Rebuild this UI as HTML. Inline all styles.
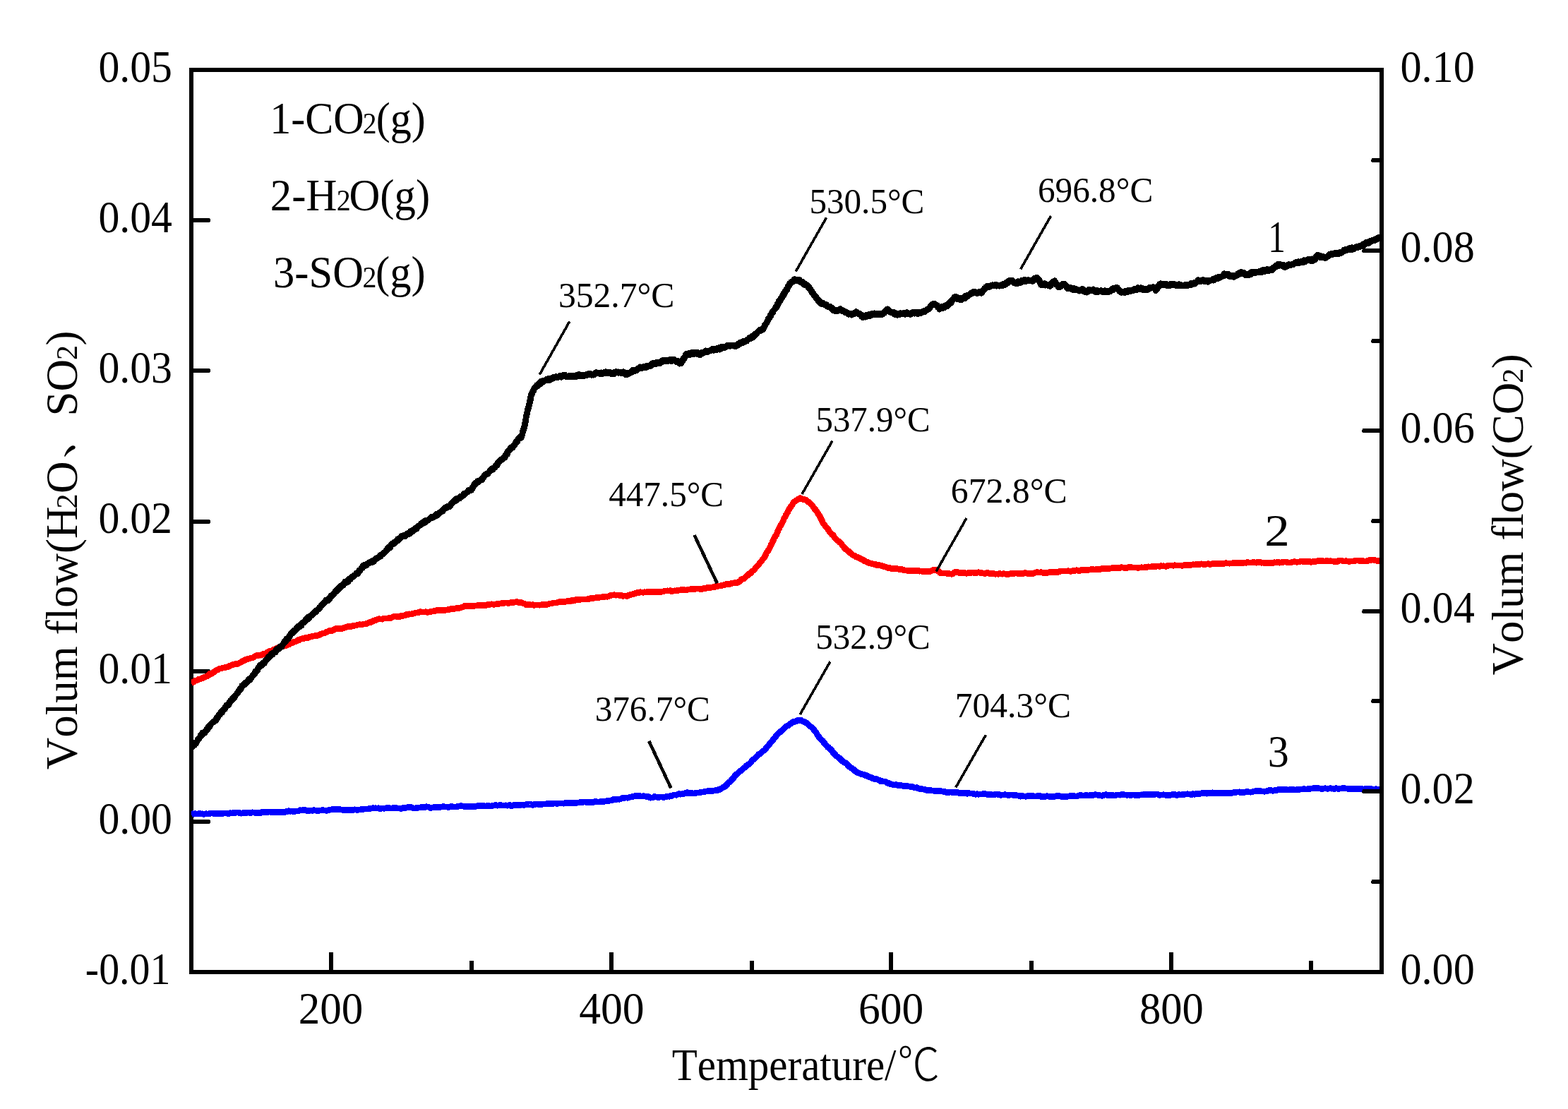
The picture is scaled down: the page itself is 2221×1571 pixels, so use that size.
<!DOCTYPE html>
<html lang="en"><head><meta charset="utf-8"><title>Volum flow vs Temperature</title>
<style>html,body{margin:0;padding:0;background:#fff;}body{width:2221px;height:1571px;overflow:hidden;}svg{display:block;}text{fill:#000;white-space:pre;font-kerning:none;font-variant-ligatures:none;}</style>
</head><body>
<svg width="2221" height="1571" viewBox="0 0 2221 1571" role="img" aria-label="Volum flow of CO2, H2O and SO2 versus temperature">
<rect x="0" y="0" width="2221" height="1571" fill="#fff"/>
<g stroke="#000" stroke-width="6" fill="none" stroke-linecap="butt" shape-rendering="crispEdges">
<line x1="271.0" y1="95.7" x2="271.0" y2="1379.7"/>
<line x1="268.0" y1="1376.7" x2="1960.2" y2="1376.7"/>
<line x1="268.0" y1="98.7" x2="1960.2" y2="98.7"/>
<line x1="271.0" y1="312.0" x2="297.0" y2="312.0"/>
<line x1="296.5" y1="312.0" x2="298" y2="312.0" stroke-width="4"/>
<line x1="271.0" y1="525.0" x2="297.0" y2="525.0"/>
<line x1="296.5" y1="525.0" x2="298" y2="525.0" stroke-width="4"/>
<line x1="271.0" y1="739.0" x2="297.0" y2="739.0"/>
<line x1="296.5" y1="739.0" x2="298" y2="739.0" stroke-width="4"/>
<line x1="271.0" y1="951.0" x2="297.0" y2="951.0"/>
<line x1="296.5" y1="951.0" x2="298" y2="951.0" stroke-width="4"/>
<line x1="271.0" y1="1164.0" x2="297.0" y2="1164.0"/>
<line x1="296.5" y1="1164.0" x2="298" y2="1164.0" stroke-width="4"/>
<line x1="469.0" y1="1376.7" x2="469.0" y2="1348.7"/>
<line x1="866.0" y1="1376.7" x2="866.0" y2="1348.7"/>
<line x1="1262.0" y1="1376.7" x2="1262.0" y2="1348.7"/>
<line x1="1659.0" y1="1376.7" x2="1659.0" y2="1348.7"/>
<line x1="668.0" y1="1376.7" x2="668.0" y2="1361.0"/>
<line x1="1065.0" y1="1376.7" x2="1065.0" y2="1361.0"/>
<line x1="1461.0" y1="1376.7" x2="1461.0" y2="1361.0"/>
<line x1="1857.0" y1="1376.7" x2="1857.0" y2="1361.0"/>
</g>
<clipPath id="cp"><rect x="270.8" y="90" width="1684.2" height="1300"/></clipPath>
<g clip-path="url(#cp)">
<path d="M270.8 967.4 L272.6 966.6 L274.4 965.9 L276.2 964.4 L278.0 963.9 L279.8 963.4 L281.6 962.3 L283.4 961.9 L285.2 961.3 L287.0 960.7 L288.8 959.4 L290.6 959.0 L292.4 958.2 L294.0 957.7 L295.7 956.3 L297.3 954.4 L299.0 954.5 L300.6 953.7 L302.3 952.5 L303.9 951.5 L305.6 950.2 L307.2 949.1 L308.9 948.8 L310.5 947.4 L312.5 947.1 L314.4 946.6 L316.4 945.9 L318.3 945.7 L320.3 945.0 L322.2 944.8 L324.2 943.8 L326.1 943.1 L328.1 942.2 L330.0 941.6 L332.0 941.1 L333.8 940.4 L335.6 940.7 L337.4 940.0 L339.2 939.2 L341.0 938.4 L342.8 937.1 L344.6 936.2 L346.4 935.3 L348.2 934.3 L350.0 934.2 L352.0 933.0 L353.9 932.9 L355.9 931.9 L357.9 931.8 L359.9 930.9 L361.8 929.2 L363.8 928.6 L365.8 928.9 L367.8 928.1 L369.7 928.2 L371.7 927.1 L373.5 926.2 L375.3 926.1 L377.1 925.3 L378.9 923.8 L380.7 922.7 L382.5 922.2 L384.3 922.2 L386.1 921.4 L387.9 920.0 L389.7 919.5 L391.5 918.6 L393.3 917.5 L395.3 917.3 L397.2 915.7 L399.2 915.8 L401.2 915.4 L403.2 914.8 L405.1 914.6 L407.1 913.2 L409.1 912.9 L411.1 911.5 L413.0 911.0 L415.0 909.9 L416.8 909.1 L418.6 909.0 L420.4 908.0 L422.2 906.7 L424.0 906.6 L425.8 905.2 L427.6 904.8 L429.4 904.6 L431.4 904.1 L433.3 903.2 L435.3 903.8 L437.3 902.7 L439.2 902.1 L441.2 902.1 L443.1 901.0 L445.1 900.9 L447.1 900.5 L449.0 900.4 L451.0 900.2 L452.8 898.9 L454.6 898.4 L456.4 897.5 L458.2 897.0 L460.0 896.8 L461.8 895.5 L463.6 894.8 L465.4 894.2 L467.2 893.3 L469.0 893.0 L470.8 893.4 L472.6 892.3 L474.6 891.0 L476.5 890.2 L478.5 890.7 L480.5 890.9 L482.4 890.1 L484.4 890.4 L486.3 889.8 L488.3 889.0 L490.3 888.4 L492.2 887.7 L494.2 887.3 L496.2 887.9 L498.1 886.8 L500.1 886.9 L502.1 885.9 L504.1 886.0 L506.0 885.2 L508.0 884.9 L510.0 884.7 L512.0 885.1 L513.9 884.2 L515.9 884.0 L517.9 883.8 L519.8 883.4 L521.8 882.5 L523.8 881.5 L525.7 881.5 L527.7 880.1 L529.6 879.2 L531.6 878.7 L533.6 878.1 L535.5 876.9 L537.5 876.8 L539.4 877.0 L541.3 877.2 L543.3 876.2 L545.2 875.9 L547.1 875.9 L549.0 876.0 L550.9 875.6 L552.9 875.6 L554.8 874.9 L556.7 873.9 L558.6 873.2 L560.5 873.0 L562.5 873.8 L564.4 873.4 L566.3 873.5 L568.2 872.3 L570.1 872.7 L572.1 871.9 L574.0 871.5 L575.9 870.4 L577.8 870.9 L579.7 869.8 L581.7 870.0 L583.6 869.6 L585.5 869.2 L587.4 868.5 L589.3 868.1 L591.3 867.8 L593.2 867.5 L595.1 866.7 L597.0 866.9 L599.0 866.9 L600.9 867.1 L602.9 866.8 L604.8 867.3 L606.8 867.2 L608.7 866.7 L610.7 866.5 L612.6 865.9 L614.6 865.8 L616.5 865.4 L618.5 864.5 L620.4 864.7 L622.4 864.8 L624.3 864.6 L626.3 864.5 L628.2 864.1 L630.2 864.4 L632.2 864.1 L634.1 863.8 L636.1 863.8 L638.0 862.8 L640.0 863.1 L642.0 862.1 L644.0 862.3 L646.0 861.9 L648.0 861.3 L650.0 861.5 L652.0 861.0 L654.0 860.3 L656.0 859.8 L658.0 858.4 L659.9 858.1 L661.9 858.3 L663.8 858.7 L665.7 858.2 L667.6 858.2 L669.6 858.9 L671.5 858.4 L673.4 857.9 L675.4 858.0 L677.3 857.5 L679.2 857.8 L681.1 857.3 L683.1 857.5 L685.0 857.8 L686.9 857.8 L688.9 857.4 L690.8 856.5 L692.7 856.4 L694.6 856.1 L696.6 855.8 L698.5 856.2 L700.4 856.2 L702.4 855.9 L704.3 855.5 L706.2 855.6 L708.1 854.9 L710.1 854.8 L712.0 854.7 L714.0 854.3 L715.9 854.0 L717.9 854.1 L719.9 854.3 L721.9 854.2 L723.8 853.6 L725.8 853.6 L727.8 853.3 L729.8 852.9 L731.7 852.7 L733.7 852.8 L735.8 853.9 L737.8 853.3 L739.9 854.3 L741.9 855.0 L744.0 855.6 L746.0 857.0 L748.1 856.6 L750.2 856.7 L752.2 857.0 L754.3 856.6 L756.3 857.5 L758.4 856.9 L760.4 856.9 L762.5 857.0 L764.5 857.2 L766.5 856.8 L768.5 856.8 L770.5 856.6 L772.5 856.5 L774.5 856.4 L776.5 855.8 L778.5 855.1 L780.5 855.1 L782.5 854.5 L784.4 854.0 L786.4 854.1 L788.4 854.1 L790.4 853.1 L792.3 852.7 L794.3 852.3 L796.3 852.6 L798.3 852.3 L800.2 852.3 L802.2 852.1 L804.1 851.4 L806.1 851.6 L808.0 851.5 L809.9 850.5 L811.8 851.2 L813.8 850.6 L815.7 849.6 L817.6 849.5 L819.6 849.5 L821.5 849.6 L823.4 848.9 L825.3 848.9 L827.3 849.1 L829.2 848.9 L831.1 848.9 L833.1 848.4 L835.0 848.4 L836.9 847.6 L838.8 847.6 L840.8 847.3 L842.7 846.9 L844.6 846.7 L846.6 845.9 L848.5 846.3 L850.4 846.1 L852.3 845.8 L854.3 845.3 L856.2 845.5 L858.2 845.1 L860.2 845.2 L862.2 844.6 L864.2 843.7 L866.2 843.1 L868.2 843.1 L870.2 842.8 L872.2 843.2 L874.2 843.0 L876.3 843.0 L878.3 844.0 L880.4 843.5 L882.4 844.4 L884.5 843.9 L886.5 844.1 L888.6 844.6 L890.4 843.3 L892.2 842.6 L894.0 842.2 L895.9 841.9 L897.7 841.4 L899.5 840.7 L901.3 840.1 L903.2 839.4 L905.2 839.5 L907.1 838.8 L909.0 839.0 L910.9 839.3 L912.9 838.8 L914.8 838.9 L916.7 838.5 L918.7 838.4 L920.6 838.6 L922.5 838.3 L924.4 838.2 L926.4 838.3 L928.3 838.9 L930.2 838.8 L932.2 838.0 L934.1 838.6 L936.0 838.5 L937.9 837.9 L939.9 837.8 L941.8 837.1 L943.7 837.1 L945.7 836.8 L947.6 837.1 L949.5 836.7 L951.4 837.8 L953.4 837.1 L955.3 836.8 L957.2 837.0 L959.2 836.5 L961.1 836.2 L963.0 836.1 L964.9 835.4 L966.9 835.8 L968.8 835.5 L970.7 836.0 L972.7 835.9 L974.6 835.1 L976.5 835.1 L978.4 834.6 L980.4 834.7 L982.3 834.9 L984.3 834.6 L986.2 833.9 L988.2 833.9 L990.2 833.9 L992.1 834.5 L994.1 834.6 L996.1 833.6 L998.0 834.1 L1000.0 832.9 L1002.0 832.7 L1004.0 832.3 L1006.0 832.5 L1008.0 831.9 L1010.0 831.8 L1012.0 831.5 L1014.0 830.5 L1016.0 830.6 L1018.0 829.9 L1020.0 830.1 L1022.0 829.6 L1024.0 828.9 L1026.0 828.5 L1028.0 827.7 L1030.0 827.5 L1032.0 827.4 L1034.0 827.4 L1036.0 826.5 L1037.8 826.0 L1039.6 825.9 L1041.4 825.6 L1043.2 825.2 L1045.0 825.3 L1046.8 824.2 L1048.4 822.9 L1050.0 820.8 L1051.6 820.5 L1053.2 819.8 L1054.7 819.1 L1056.3 817.1 L1057.9 815.6 L1059.5 814.8 L1060.9 813.0 L1062.3 812.7 L1063.7 811.4 L1065.1 809.6 L1066.5 808.6 L1067.9 808.0 L1069.3 805.7 L1070.7 803.8 L1072.1 802.8 L1073.4 801.0 L1074.7 799.9 L1076.0 797.8 L1077.2 796.5 L1078.5 795.3 L1079.8 793.1 L1081.1 791.7 L1082.1 790.4 L1083.1 788.9 L1084.1 787.0 L1085.1 784.2 L1086.1 782.7 L1087.1 781.5 L1088.1 779.9 L1089.1 778.6 L1090.1 776.3 L1091.0 774.3 L1091.9 772.5 L1092.8 770.5 L1093.7 769.0 L1094.6 767.0 L1095.5 765.2 L1096.4 763.0 L1097.3 761.2 L1098.2 759.5 L1099.1 758.5 L1100.0 756.9 L1100.9 754.8 L1101.8 751.9 L1102.7 749.8 L1103.6 748.9 L1104.5 746.6 L1105.4 745.1 L1106.3 743.3 L1107.2 742.0 L1108.1 740.7 L1109.0 738.5 L1109.9 736.6 L1110.8 733.9 L1111.7 732.9 L1112.6 731.4 L1113.5 729.0 L1114.4 727.7 L1115.3 726.3 L1116.2 724.4 L1117.1 722.4 L1118.3 720.6 L1119.5 719.2 L1120.7 716.6 L1121.9 715.5 L1123.1 713.4 L1124.3 711.3 L1126.1 710.3 L1127.9 708.9 L1129.7 707.6 L1131.5 706.8 L1133.3 705.6 L1135.1 706.7 L1136.9 707.2 L1138.7 707.3 L1140.5 708.3 L1142.3 708.5 L1143.8 710.0 L1145.3 711.2 L1146.8 712.0 L1148.4 713.7 L1149.9 715.5 L1151.4 717.1 L1152.6 719.2 L1153.8 720.8 L1155.0 722.0 L1156.2 723.9 L1157.4 725.1 L1158.6 727.2 L1159.6 729.2 L1160.7 730.4 L1161.7 732.4 L1162.7 734.4 L1163.7 736.5 L1164.8 738.2 L1165.8 741.1 L1166.9 742.4 L1168.0 743.7 L1169.2 745.7 L1170.3 746.8 L1171.4 748.0 L1172.5 749.0 L1173.7 751.4 L1174.8 752.8 L1176.1 754.7 L1177.5 756.1 L1178.8 757.7 L1180.2 758.1 L1181.5 760.6 L1182.9 762.6 L1184.2 764.0 L1185.6 765.3 L1186.9 766.0 L1188.3 767.1 L1189.7 768.6 L1191.0 769.7 L1192.3 771.2 L1193.7 773.5 L1195.1 774.8 L1196.4 776.4 L1197.9 778.0 L1199.5 778.7 L1201.0 780.2 L1202.6 781.4 L1204.1 783.1 L1205.7 784.0 L1207.2 785.7 L1209.0 786.9 L1210.8 787.2 L1212.6 789.0 L1214.4 789.1 L1216.2 790.4 L1218.0 790.8 L1219.8 791.9 L1221.6 792.7 L1223.4 793.4 L1225.2 795.2 L1227.0 795.6 L1228.8 796.4 L1230.6 797.3 L1232.4 797.8 L1234.2 798.1 L1236.0 798.9 L1237.8 799.2 L1239.6 799.4 L1241.4 800.3 L1243.4 800.2 L1245.4 800.4 L1247.4 801.1 L1249.4 801.5 L1251.3 802.1 L1253.3 803.1 L1255.3 803.3 L1257.3 804.4 L1259.3 804.9 L1261.3 804.8 L1263.3 805.8 L1265.3 805.8 L1267.2 805.0 L1269.2 806.1 L1271.2 805.8 L1273.2 806.2 L1275.2 806.9 L1277.1 806.5 L1279.1 807.1 L1281.1 808.0 L1283.1 808.1 L1285.0 808.1 L1287.0 808.8 L1289.0 808.8 L1290.9 808.8 L1292.9 808.2 L1294.8 808.6 L1296.8 808.3 L1298.8 808.3 L1300.7 808.4 L1302.7 809.2 L1304.8 808.9 L1306.8 809.4 L1308.9 809.9 L1310.9 809.6 L1313.0 809.4 L1315.0 809.6 L1317.1 809.4 L1318.9 808.9 L1320.7 807.8 L1322.5 807.6 L1324.3 806.9 L1326.1 807.7 L1327.9 808.4 L1329.7 809.4 L1331.5 811.4 L1333.3 812.1 L1335.4 812.0 L1337.4 811.9 L1339.5 811.9 L1341.5 812.4 L1343.6 812.3 L1345.6 812.8 L1347.7 813.3 L1349.5 812.9 L1351.3 811.4 L1353.2 810.5 L1355.0 810.3 L1357.1 810.9 L1359.1 811.6 L1361.2 811.4 L1363.2 811.4 L1365.3 811.6 L1367.3 811.8 L1369.4 812.3 L1371.5 811.6 L1373.6 811.9 L1375.8 811.2 L1377.9 811.0 L1380.0 811.4 L1382.0 811.2 L1384.0 811.2 L1386.0 810.8 L1388.0 811.3 L1389.9 811.4 L1391.9 811.9 L1393.9 812.3 L1395.9 812.3 L1397.9 811.5 L1399.9 811.7 L1401.9 812.5 L1403.9 812.4 L1405.8 812.9 L1407.8 812.7 L1409.8 813.3 L1411.8 812.9 L1413.8 813.3 L1415.8 812.4 L1417.8 812.8 L1419.7 813.2 L1421.7 812.6 L1423.7 813.0 L1425.7 813.3 L1427.7 813.7 L1429.7 812.9 L1431.6 812.6 L1433.6 812.0 L1435.6 812.8 L1437.6 812.0 L1439.6 811.9 L1441.6 812.5 L1443.5 812.5 L1445.5 812.8 L1447.5 812.2 L1449.5 812.4 L1451.5 811.4 L1453.5 811.8 L1455.5 812.5 L1457.4 812.1 L1459.4 812.3 L1461.4 812.7 L1463.4 812.6 L1465.4 811.6 L1467.4 810.9 L1469.4 810.6 L1471.4 811.1 L1473.3 810.8 L1475.3 810.7 L1477.3 811.3 L1479.3 811.2 L1481.3 811.6 L1483.3 811.3 L1485.3 811.0 L1487.2 810.2 L1489.2 810.7 L1491.2 810.4 L1493.2 810.5 L1495.2 810.3 L1497.2 810.5 L1499.1 810.2 L1501.1 809.3 L1503.1 809.1 L1505.1 808.9 L1507.1 808.9 L1509.1 809.0 L1511.0 809.1 L1513.0 808.8 L1515.0 809.1 L1517.0 809.3 L1519.0 808.7 L1521.0 808.7 L1523.0 808.2 L1525.0 807.8 L1527.0 808.4 L1529.0 808.5 L1531.0 807.8 L1532.9 807.5 L1534.9 807.9 L1536.9 807.7 L1538.9 807.4 L1540.9 807.6 L1542.9 807.1 L1544.9 807.1 L1546.9 806.2 L1548.9 806.7 L1550.9 807.0 L1552.9 806.3 L1554.8 806.1 L1556.8 806.6 L1558.8 806.5 L1560.8 805.5 L1562.8 805.9 L1564.8 805.2 L1566.7 805.9 L1568.7 805.8 L1570.7 805.5 L1572.7 805.0 L1574.7 805.1 L1576.7 804.3 L1578.6 804.7 L1580.6 804.5 L1582.6 804.6 L1584.6 804.9 L1586.6 804.3 L1588.6 803.7 L1590.6 803.9 L1592.5 804.3 L1594.5 804.4 L1596.5 804.4 L1598.5 803.6 L1600.5 803.8 L1602.5 803.7 L1604.5 803.9 L1606.5 803.9 L1608.4 804.0 L1610.4 804.2 L1612.4 804.4 L1614.4 804.0 L1616.4 803.8 L1618.4 803.9 L1620.4 803.9 L1622.4 803.5 L1624.4 803.4 L1626.3 802.8 L1628.3 803.0 L1630.3 802.9 L1632.3 802.4 L1634.3 802.2 L1636.3 802.3 L1638.3 802.3 L1640.3 801.9 L1642.2 802.4 L1644.2 801.6 L1646.2 801.9 L1648.2 801.8 L1650.2 802.2 L1652.2 802.2 L1654.1 801.5 L1656.1 801.0 L1658.0 801.1 L1660.0 800.9 L1662.0 801.4 L1664.0 800.7 L1666.0 801.0 L1668.0 801.0 L1669.9 801.0 L1671.9 801.0 L1673.9 801.3 L1675.9 801.1 L1677.9 800.5 L1679.9 800.5 L1681.9 800.7 L1683.9 800.6 L1685.8 800.8 L1687.8 800.0 L1689.8 799.8 L1691.8 799.9 L1693.8 799.5 L1695.8 799.2 L1697.8 799.7 L1699.7 799.5 L1701.7 798.8 L1703.7 799.2 L1705.7 799.7 L1707.7 799.4 L1709.7 799.0 L1711.6 798.7 L1713.6 799.5 L1715.6 799.2 L1717.6 798.7 L1719.6 798.8 L1721.6 798.6 L1723.5 798.2 L1725.5 798.7 L1727.5 798.6 L1729.5 798.3 L1731.5 798.3 L1733.5 798.3 L1735.5 797.8 L1737.4 797.8 L1739.4 798.0 L1741.4 798.2 L1743.4 798.1 L1745.4 797.8 L1747.4 797.8 L1749.4 797.4 L1751.4 798.0 L1753.3 797.5 L1755.3 797.5 L1757.3 797.9 L1759.3 797.2 L1761.3 797.5 L1763.3 796.9 L1765.3 797.3 L1767.2 796.3 L1769.2 797.1 L1771.2 797.1 L1773.2 797.0 L1775.2 796.4 L1777.2 796.7 L1779.1 797.2 L1781.1 796.5 L1783.1 796.8 L1785.1 796.6 L1787.1 797.3 L1789.1 797.0 L1791.0 797.5 L1793.0 797.1 L1795.0 797.7 L1797.0 797.4 L1799.0 797.8 L1801.0 796.9 L1803.0 797.6 L1805.0 796.8 L1807.0 796.9 L1809.0 796.7 L1811.0 796.5 L1812.9 797.2 L1814.9 796.8 L1816.9 796.5 L1818.9 796.0 L1820.9 795.9 L1822.9 796.4 L1824.9 796.9 L1826.9 796.9 L1828.9 796.8 L1830.9 795.9 L1832.9 795.8 L1834.8 795.8 L1836.8 796.3 L1838.8 796.1 L1840.8 795.8 L1842.8 795.0 L1844.8 795.2 L1846.7 795.7 L1848.7 795.4 L1850.7 795.9 L1852.7 795.8 L1854.7 795.3 L1856.7 796.3 L1858.6 796.0 L1860.6 795.3 L1862.6 795.6 L1864.6 794.9 L1866.6 794.7 L1868.6 794.5 L1870.6 794.4 L1872.5 794.6 L1874.5 794.8 L1876.5 795.0 L1878.5 794.6 L1880.5 794.5 L1882.5 795.0 L1884.5 794.5 L1886.5 795.0 L1888.4 795.0 L1890.4 795.5 L1892.4 795.4 L1894.4 795.5 L1896.4 794.3 L1898.4 793.9 L1900.4 794.0 L1902.4 794.8 L1904.4 795.0 L1906.3 794.6 L1908.3 794.9 L1910.3 795.5 L1912.3 795.3 L1914.3 794.9 L1916.3 795.1 L1918.3 794.7 L1920.3 794.2 L1922.2 794.1 L1924.2 793.9 L1926.2 794.8 L1928.2 794.5 L1930.2 794.7 L1932.3 794.9 L1934.3 795.0 L1936.4 794.7 L1938.5 793.8 L1940.5 793.3 L1942.6 793.4 L1944.7 793.0 L1946.7 793.4 L1948.8 793.9 L1950.9 794.4 L1952.9 794.4 L1955.0 793.5" fill="none" stroke="#ff0000" stroke-width="8.70" stroke-linejoin="round" stroke-linecap="butt" shape-rendering="crispEdges"/>
<path d="M270.8 1153.5 L272.7 1152.7 L274.7 1153.2 L276.6 1152.7 L278.6 1153.0 L280.5 1152.8 L282.4 1152.4 L284.4 1153.0 L286.3 1152.8 L288.3 1153.4 L290.2 1152.9 L292.2 1152.8 L294.1 1152.9 L296.0 1153.1 L298.0 1152.1 L299.9 1151.9 L301.9 1152.3 L303.8 1152.6 L305.8 1152.2 L307.8 1152.1 L309.7 1152.8 L311.7 1151.9 L313.7 1152.7 L315.7 1152.2 L317.7 1152.1 L319.7 1152.1 L321.6 1152.2 L323.6 1152.7 L325.6 1151.8 L327.6 1151.9 L329.6 1151.7 L331.6 1151.4 L333.5 1151.5 L335.5 1151.0 L337.5 1151.2 L339.5 1151.6 L341.5 1152.2 L343.5 1151.8 L345.5 1151.5 L347.4 1151.6 L349.4 1151.3 L351.4 1151.0 L353.4 1151.4 L355.4 1151.3 L357.4 1150.8 L359.4 1151.1 L361.4 1151.3 L363.3 1151.8 L365.3 1151.9 L367.3 1151.1 L369.3 1151.5 L371.3 1150.3 L373.3 1150.6 L375.3 1151.0 L377.2 1150.4 L379.2 1150.6 L381.2 1150.0 L383.2 1150.4 L385.2 1150.5 L387.2 1150.2 L389.1 1150.5 L391.1 1150.0 L393.1 1150.6 L395.1 1150.6 L397.1 1150.6 L399.1 1150.4 L401.0 1150.8 L403.0 1150.5 L405.0 1149.7 L407.0 1149.5 L409.0 1148.7 L411.0 1149.2 L413.0 1149.0 L415.0 1149.5 L417.0 1149.5 L419.0 1149.1 L421.0 1148.9 L422.9 1148.8 L424.9 1147.8 L426.9 1148.1 L428.9 1147.6 L430.9 1147.4 L432.9 1147.6 L434.9 1148.7 L436.9 1148.4 L438.9 1148.2 L440.9 1148.1 L442.9 1148.3 L444.8 1147.6 L446.8 1148.1 L448.8 1148.4 L450.8 1148.5 L452.8 1148.2 L454.8 1148.0 L456.7 1147.5 L458.7 1147.9 L460.7 1148.0 L462.7 1148.3 L464.7 1148.1 L466.7 1147.0 L468.6 1146.9 L470.6 1146.7 L472.6 1146.6 L474.6 1146.7 L476.6 1146.8 L478.6 1146.3 L480.6 1146.3 L482.5 1147.0 L484.5 1147.2 L486.5 1147.4 L488.5 1147.8 L490.5 1147.6 L492.5 1147.5 L494.5 1147.7 L496.5 1147.9 L498.4 1146.9 L500.4 1147.3 L502.4 1146.8 L504.4 1147.2 L506.4 1147.3 L508.4 1147.0 L510.4 1146.8 L512.4 1146.3 L514.4 1146.6 L516.3 1145.9 L518.3 1145.9 L520.3 1146.0 L522.3 1145.6 L524.3 1145.5 L526.3 1144.9 L528.3 1144.8 L530.3 1144.9 L532.2 1144.8 L534.2 1145.0 L536.2 1144.7 L538.2 1145.5 L540.2 1145.3 L542.2 1145.0 L544.2 1145.3 L546.2 1145.0 L548.1 1144.6 L550.1 1143.9 L552.1 1144.8 L554.1 1145.1 L556.1 1144.7 L558.1 1144.9 L560.1 1144.6 L562.1 1144.7 L564.0 1145.0 L566.0 1145.0 L568.0 1145.6 L570.0 1144.6 L572.0 1144.0 L574.0 1144.5 L576.0 1143.9 L578.0 1143.4 L580.0 1143.7 L582.0 1143.5 L584.0 1144.3 L586.0 1145.1 L588.0 1144.9 L590.0 1144.7 L592.1 1144.2 L594.1 1144.1 L596.1 1143.6 L598.1 1143.9 L600.1 1143.4 L602.1 1143.4 L604.1 1142.7 L606.2 1143.0 L608.2 1143.9 L610.2 1144.5 L612.2 1144.0 L614.2 1143.7 L616.2 1143.4 L618.3 1143.5 L620.3 1143.2 L622.3 1143.7 L624.3 1143.3 L626.3 1142.8 L628.3 1142.6 L630.3 1142.9 L632.4 1143.0 L634.4 1143.4 L636.4 1143.3 L638.4 1142.5 L640.4 1142.6 L642.4 1142.9 L644.4 1143.1 L646.4 1142.8 L648.4 1142.4 L650.4 1142.1 L652.4 1141.7 L654.4 1141.8 L656.4 1142.2 L658.4 1142.6 L660.4 1142.7 L662.4 1142.5 L664.4 1142.8 L666.4 1142.9 L668.4 1142.1 L670.4 1142.7 L672.4 1142.6 L674.4 1142.1 L676.4 1141.7 L678.4 1141.4 L680.4 1141.1 L682.4 1141.7 L684.4 1141.3 L686.4 1141.8 L688.4 1142.0 L690.4 1141.5 L692.4 1141.5 L694.4 1142.0 L696.4 1141.7 L698.4 1141.0 L700.4 1140.8 L702.4 1140.7 L704.4 1141.2 L706.4 1141.0 L708.4 1140.3 L710.4 1141.0 L712.4 1141.1 L714.4 1141.0 L716.4 1140.8 L718.4 1141.2 L720.5 1140.8 L722.5 1140.7 L724.5 1141.7 L726.5 1140.9 L728.5 1140.3 L730.5 1140.3 L732.5 1139.9 L734.5 1140.6 L736.5 1140.7 L738.5 1140.1 L740.5 1140.2 L742.5 1140.3 L744.5 1139.8 L746.5 1139.8 L748.5 1139.0 L750.5 1139.5 L752.5 1139.5 L754.5 1140.6 L756.5 1139.6 L758.5 1139.3 L760.5 1139.0 L762.5 1139.4 L764.5 1139.1 L766.5 1139.7 L768.5 1139.2 L770.5 1139.1 L772.5 1139.0 L774.5 1138.5 L776.5 1138.9 L778.5 1138.6 L780.5 1138.1 L782.5 1138.7 L784.5 1137.9 L786.5 1138.1 L788.5 1138.3 L790.5 1138.2 L792.5 1137.9 L794.5 1138.1 L796.5 1138.1 L798.5 1138.2 L800.5 1137.4 L802.5 1137.7 L804.5 1137.4 L806.5 1137.4 L808.5 1137.9 L810.5 1137.5 L812.5 1137.4 L814.5 1137.4 L816.5 1137.4 L818.5 1136.9 L820.5 1136.9 L822.5 1136.5 L824.5 1136.3 L826.5 1136.2 L828.6 1136.1 L830.6 1136.4 L832.6 1136.5 L834.6 1136.8 L836.6 1136.4 L838.6 1136.5 L840.6 1136.3 L842.6 1135.4 L844.6 1135.5 L846.6 1136.1 L848.6 1136.1 L850.6 1135.6 L852.6 1135.5 L854.6 1135.7 L856.6 1135.1 L858.7 1134.8 L860.7 1134.1 L862.8 1134.3 L864.8 1134.0 L866.8 1133.6 L868.9 1132.5 L870.9 1132.9 L873.0 1132.6 L875.0 1131.9 L877.0 1132.2 L879.1 1131.8 L881.1 1130.6 L883.2 1131.0 L885.2 1130.2 L887.1 1129.9 L889.0 1130.3 L890.9 1129.9 L892.8 1129.0 L894.7 1128.8 L896.5 1128.4 L898.4 1127.8 L900.3 1127.4 L902.2 1127.4 L904.1 1127.6 L906.0 1127.2 L907.9 1128.0 L909.8 1128.1 L911.7 1127.7 L913.5 1128.1 L915.4 1128.4 L917.3 1128.8 L919.2 1128.8 L921.1 1130.2 L923.0 1130.0 L924.9 1129.8 L926.9 1128.6 L928.8 1128.9 L930.8 1128.9 L932.7 1129.8 L934.7 1129.2 L936.6 1129.0 L938.6 1129.2 L940.5 1129.4 L942.5 1129.1 L944.4 1128.3 L946.4 1127.9 L948.3 1128.3 L950.3 1127.3 L952.2 1127.2 L954.2 1126.3 L956.1 1126.0 L958.1 1126.2 L960.0 1125.4 L962.0 1124.5 L963.9 1125.2 L965.9 1124.7 L967.8 1125.0 L969.8 1123.8 L971.7 1124.0 L973.7 1122.7 L975.6 1123.7 L977.5 1123.5 L979.5 1123.6 L981.4 1123.8 L983.3 1124.1 L985.3 1123.4 L987.2 1123.0 L989.2 1123.1 L991.1 1122.6 L993.0 1122.2 L995.0 1122.1 L996.9 1121.8 L998.9 1121.4 L1000.8 1121.0 L1002.7 1120.4 L1004.7 1121.0 L1006.6 1120.7 L1008.5 1121.0 L1010.5 1120.2 L1012.4 1119.9 L1014.4 1119.1 L1016.3 1119.4 L1018.1 1118.3 L1019.9 1118.3 L1021.7 1117.1 L1023.5 1115.7 L1025.3 1115.0 L1027.1 1114.1 L1028.9 1111.9 L1030.3 1110.7 L1031.7 1109.1 L1033.1 1107.9 L1034.5 1107.0 L1035.9 1105.0 L1037.3 1103.7 L1038.7 1102.4 L1040.1 1100.7 L1041.5 1098.1 L1043.0 1097.0 L1044.5 1095.7 L1046.1 1094.5 L1047.6 1093.2 L1049.1 1092.0 L1050.6 1090.7 L1052.1 1089.7 L1053.7 1088.1 L1055.2 1087.2 L1056.7 1085.2 L1058.2 1084.1 L1059.6 1083.0 L1061.1 1082.7 L1062.6 1081.1 L1064.0 1079.2 L1065.5 1077.2 L1067.0 1076.0 L1068.4 1074.9 L1069.9 1074.0 L1071.4 1072.0 L1072.8 1070.6 L1074.3 1068.8 L1075.9 1068.2 L1077.5 1067.0 L1079.0 1065.3 L1080.6 1063.8 L1082.2 1063.3 L1083.8 1061.4 L1085.3 1059.7 L1086.9 1057.6 L1088.2 1056.2 L1089.4 1054.8 L1090.7 1053.3 L1091.9 1051.5 L1093.2 1050.4 L1094.5 1048.5 L1095.7 1047.3 L1097.0 1045.6 L1098.2 1044.3 L1099.5 1042.3 L1100.9 1040.7 L1102.3 1039.5 L1103.7 1037.9 L1105.1 1036.9 L1106.5 1035.5 L1107.9 1034.4 L1109.3 1032.9 L1110.7 1031.6 L1112.1 1030.3 L1113.8 1028.9 L1115.5 1028.0 L1117.2 1027.7 L1118.8 1025.5 L1120.5 1024.7 L1122.2 1023.3 L1124.0 1022.2 L1125.7 1022.4 L1127.5 1022.0 L1129.2 1020.8 L1131.0 1019.9 L1132.8 1020.2 L1134.6 1020.3 L1136.3 1021.5 L1138.1 1022.3 L1139.9 1022.8 L1141.6 1023.8 L1143.3 1024.9 L1145.0 1026.1 L1146.6 1028.0 L1148.3 1029.3 L1150.0 1030.7 L1151.3 1031.9 L1152.5 1033.4 L1153.8 1035.0 L1155.0 1036.8 L1156.3 1038.0 L1157.6 1040.6 L1158.8 1042.2 L1160.1 1044.2 L1161.3 1045.7 L1162.6 1047.2 L1164.0 1048.4 L1165.4 1049.5 L1166.8 1051.8 L1168.2 1053.3 L1169.6 1054.8 L1171.0 1056.5 L1172.4 1058.3 L1173.8 1058.9 L1175.2 1060.7 L1176.6 1061.3 L1178.0 1062.9 L1179.4 1064.9 L1180.8 1067.2 L1182.2 1067.9 L1183.6 1069.7 L1185.0 1071.2 L1186.4 1072.0 L1187.8 1073.1 L1189.4 1074.4 L1191.0 1076.0 L1192.5 1077.6 L1194.1 1078.9 L1195.7 1079.9 L1197.2 1080.4 L1198.8 1081.5 L1200.4 1083.2 L1202.0 1085.3 L1203.6 1086.4 L1205.1 1087.7 L1206.7 1088.3 L1208.3 1089.4 L1209.8 1090.8 L1211.4 1092.3 L1213.0 1093.5 L1214.8 1094.4 L1216.6 1094.9 L1218.4 1096.0 L1220.2 1096.5 L1222.0 1097.1 L1223.8 1097.3 L1225.6 1098.7 L1227.6 1098.6 L1229.5 1099.9 L1231.5 1100.8 L1233.5 1100.9 L1235.4 1102.3 L1237.4 1103.0 L1239.4 1103.6 L1241.3 1103.4 L1243.3 1104.3 L1245.3 1105.2 L1247.3 1106.9 L1249.3 1106.4 L1251.3 1107.1 L1253.3 1107.0 L1255.4 1108.1 L1257.4 1109.3 L1259.4 1109.3 L1261.4 1110.7 L1263.4 1111.1 L1265.3 1112.0 L1267.3 1112.0 L1269.2 1111.6 L1271.2 1112.4 L1273.1 1112.4 L1275.0 1112.3 L1277.0 1112.6 L1278.9 1113.3 L1280.8 1113.4 L1282.8 1113.4 L1284.7 1113.5 L1286.7 1113.9 L1288.6 1114.0 L1290.5 1114.9 L1292.5 1114.4 L1294.4 1115.5 L1296.4 1116.0 L1298.3 1115.6 L1300.3 1116.8 L1302.2 1117.2 L1304.2 1117.9 L1306.1 1117.8 L1308.1 1118.2 L1310.0 1118.4 L1312.0 1119.3 L1313.9 1119.2 L1315.8 1119.3 L1317.8 1119.6 L1319.7 1119.8 L1321.7 1120.0 L1323.6 1120.4 L1325.5 1121.0 L1327.5 1120.3 L1329.4 1120.8 L1331.3 1120.4 L1333.3 1120.7 L1335.2 1121.2 L1337.2 1121.3 L1339.1 1121.9 L1341.0 1122.8 L1343.0 1122.6 L1344.9 1122.3 L1346.9 1122.0 L1348.8 1122.4 L1350.7 1122.5 L1352.7 1122.3 L1354.6 1122.7 L1356.5 1122.4 L1358.5 1123.3 L1360.4 1123.1 L1362.4 1123.4 L1364.3 1123.3 L1366.3 1123.2 L1368.2 1123.2 L1370.2 1124.3 L1372.2 1123.6 L1374.1 1124.0 L1376.1 1123.9 L1378.0 1124.2 L1380.0 1124.9 L1382.0 1125.4 L1384.0 1124.7 L1386.0 1125.2 L1388.0 1124.9 L1389.9 1125.0 L1391.9 1124.7 L1393.9 1124.4 L1395.9 1124.7 L1397.9 1125.0 L1399.9 1125.9 L1401.9 1125.5 L1403.9 1125.2 L1405.8 1125.9 L1407.8 1125.9 L1409.8 1125.3 L1411.8 1124.9 L1413.8 1125.4 L1415.8 1125.7 L1417.8 1126.4 L1419.7 1126.0 L1421.7 1125.9 L1423.7 1125.7 L1425.7 1126.0 L1427.7 1126.4 L1429.7 1126.3 L1431.6 1126.0 L1433.6 1126.1 L1435.6 1126.3 L1437.6 1126.5 L1439.6 1126.8 L1441.6 1126.9 L1443.5 1127.3 L1445.5 1128.2 L1447.5 1127.5 L1449.4 1127.9 L1451.4 1128.1 L1453.3 1128.3 L1455.2 1127.6 L1457.2 1127.5 L1459.1 1127.4 L1461.0 1127.5 L1463.0 1127.5 L1464.9 1128.0 L1466.9 1127.9 L1468.8 1127.8 L1470.7 1126.9 L1472.7 1127.3 L1474.6 1128.3 L1476.6 1128.8 L1478.6 1128.3 L1480.7 1128.3 L1482.7 1127.7 L1484.7 1128.0 L1486.7 1128.4 L1488.7 1128.1 L1490.8 1128.3 L1492.8 1128.5 L1494.8 1127.9 L1496.8 1127.6 L1498.8 1127.6 L1500.9 1127.8 L1502.9 1128.2 L1504.9 1128.6 L1506.9 1128.6 L1508.9 1128.4 L1511.0 1128.4 L1513.0 1128.0 L1515.0 1127.9 L1517.0 1127.1 L1519.0 1127.5 L1521.0 1127.2 L1523.0 1128.1 L1525.0 1128.1 L1527.0 1127.3 L1529.0 1126.7 L1531.0 1126.3 L1532.9 1126.9 L1534.9 1127.1 L1536.9 1126.7 L1538.9 1126.6 L1540.9 1126.9 L1542.9 1126.8 L1544.9 1126.5 L1546.9 1126.2 L1548.9 1126.4 L1550.9 1125.7 L1552.9 1125.9 L1554.8 1126.0 L1556.8 1126.8 L1558.8 1126.8 L1560.8 1127.3 L1562.8 1126.5 L1564.8 1125.9 L1566.7 1125.6 L1568.7 1126.5 L1570.7 1126.5 L1572.7 1126.3 L1574.7 1126.2 L1576.7 1126.8 L1578.6 1127.1 L1580.6 1126.5 L1582.6 1125.9 L1584.6 1125.9 L1586.6 1126.2 L1588.6 1125.5 L1590.6 1125.3 L1592.5 1125.8 L1594.5 1126.0 L1596.5 1126.5 L1598.5 1125.9 L1600.5 1126.4 L1602.5 1126.3 L1604.5 1126.1 L1606.5 1125.9 L1608.4 1126.7 L1610.4 1126.1 L1612.4 1126.6 L1614.4 1126.1 L1616.4 1125.8 L1618.4 1126.0 L1620.4 1125.2 L1622.4 1125.9 L1624.4 1125.5 L1626.3 1125.3 L1628.3 1125.3 L1630.3 1125.5 L1632.3 1125.7 L1634.3 1125.9 L1636.3 1125.0 L1638.3 1125.1 L1640.3 1125.3 L1642.2 1126.5 L1644.2 1126.0 L1646.2 1125.9 L1648.2 1125.8 L1650.2 1126.1 L1652.2 1126.6 L1654.1 1126.6 L1656.1 1126.4 L1658.0 1126.3 L1660.0 1126.0 L1662.0 1125.0 L1664.0 1125.2 L1666.0 1126.2 L1668.0 1126.4 L1669.9 1125.5 L1671.9 1126.1 L1673.9 1125.7 L1675.9 1125.5 L1677.9 1125.2 L1679.9 1124.9 L1681.9 1124.8 L1683.9 1125.1 L1685.8 1125.2 L1687.8 1125.7 L1689.8 1124.6 L1691.8 1125.3 L1693.8 1124.3 L1695.8 1124.3 L1697.8 1124.6 L1699.7 1124.4 L1701.7 1123.9 L1703.7 1123.4 L1705.7 1123.8 L1707.7 1123.7 L1709.7 1124.2 L1711.6 1123.3 L1713.6 1123.3 L1715.6 1123.6 L1717.6 1122.8 L1719.6 1123.3 L1721.6 1123.7 L1723.5 1123.8 L1725.5 1123.2 L1727.5 1123.3 L1729.5 1123.2 L1731.5 1124.0 L1733.5 1123.2 L1735.5 1123.7 L1737.4 1123.8 L1739.4 1123.3 L1741.4 1123.1 L1743.4 1123.6 L1745.4 1123.1 L1747.4 1122.5 L1749.4 1122.7 L1751.4 1122.0 L1753.3 1122.0 L1755.3 1121.8 L1757.3 1122.6 L1759.3 1122.6 L1761.3 1122.2 L1763.3 1122.3 L1765.3 1121.5 L1767.2 1121.7 L1769.2 1122.0 L1771.2 1122.2 L1773.2 1122.0 L1775.2 1121.2 L1777.2 1120.8 L1779.1 1120.8 L1781.1 1120.6 L1783.1 1121.1 L1785.1 1120.4 L1787.1 1121.1 L1789.1 1121.0 L1791.0 1121.2 L1793.0 1121.1 L1795.0 1120.5 L1797.0 1119.8 L1799.0 1119.3 L1801.0 1119.6 L1803.0 1120.2 L1805.0 1119.7 L1807.0 1119.3 L1809.0 1119.4 L1811.0 1118.4 L1812.9 1118.2 L1814.9 1118.2 L1816.9 1118.7 L1818.9 1118.4 L1820.9 1118.9 L1822.9 1118.7 L1824.9 1119.0 L1826.9 1118.4 L1828.9 1118.3 L1830.9 1118.3 L1832.9 1118.8 L1834.8 1119.0 L1836.8 1118.5 L1838.8 1118.2 L1840.8 1118.2 L1842.8 1118.1 L1844.8 1117.9 L1846.7 1117.7 L1848.7 1117.9 L1850.7 1117.9 L1852.7 1117.6 L1854.7 1117.9 L1856.7 1117.1 L1858.6 1117.0 L1860.6 1116.7 L1862.6 1116.9 L1864.6 1116.3 L1866.6 1116.6 L1868.6 1116.9 L1870.6 1117.1 L1872.5 1117.7 L1874.5 1117.2 L1876.5 1116.8 L1878.5 1116.9 L1880.5 1117.5 L1882.5 1117.0 L1884.5 1116.7 L1886.5 1117.2 L1888.4 1117.0 L1890.4 1117.5 L1892.4 1116.7 L1894.4 1117.2 L1896.4 1117.3 L1898.4 1117.1 L1900.4 1117.0 L1902.4 1116.3 L1904.4 1116.8 L1906.3 1116.9 L1908.3 1116.9 L1910.3 1117.7 L1912.3 1117.3 L1914.3 1117.8 L1916.3 1117.3 L1918.3 1117.9 L1920.3 1117.4 L1922.2 1117.1 L1924.2 1117.4 L1926.2 1117.8 L1928.2 1117.1 L1930.2 1117.8 L1932.3 1117.9 L1934.3 1117.5 L1936.4 1117.7 L1938.5 1117.5 L1940.5 1117.5 L1942.6 1117.6 L1944.7 1118.0 L1946.7 1118.1 L1948.8 1117.8 L1950.9 1117.9 L1952.9 1118.5 L1955.0 1118.8" fill="none" stroke="#0000ff" stroke-width="8.70" stroke-linejoin="round" stroke-linecap="butt" shape-rendering="crispEdges"/>
</g>
<g stroke="#000" stroke-width="6" fill="none" stroke-linecap="butt" shape-rendering="crispEdges">
<line x1="1957.2" y1="95.7" x2="1957.2" y2="1379.7"/>
<line x1="1957.2" y1="355.0" x2="1930.0" y2="355.0"/>
<line x1="1929" y1="355.0" x2="1930.5" y2="355.0" stroke-width="3"/>
<line x1="1957.2" y1="610.0" x2="1930.0" y2="610.0"/>
<line x1="1929" y1="610.0" x2="1930.5" y2="610.0" stroke-width="3"/>
<line x1="1957.2" y1="866.0" x2="1930.0" y2="866.0"/>
<line x1="1929" y1="866.0" x2="1930.5" y2="866.0" stroke-width="3"/>
<line x1="1957.2" y1="1121.0" x2="1930.0" y2="1121.0"/>
<line x1="1929" y1="1121.0" x2="1930.5" y2="1121.0" stroke-width="3"/>
<line x1="1957.2" y1="227.0" x2="1943.0" y2="227.0"/>
<line x1="1942" y1="227.0" x2="1943.5" y2="227.0" stroke-width="3"/>
<line x1="1957.2" y1="483.0" x2="1943.0" y2="483.0"/>
<line x1="1942" y1="483.0" x2="1943.5" y2="483.0" stroke-width="3"/>
<line x1="1957.2" y1="738.0" x2="1943.0" y2="738.0"/>
<line x1="1942" y1="738.0" x2="1943.5" y2="738.0" stroke-width="3"/>
<line x1="1957.2" y1="993.0" x2="1943.0" y2="993.0"/>
<line x1="1942" y1="993.0" x2="1943.5" y2="993.0" stroke-width="3"/>
<line x1="1957.2" y1="1249.0" x2="1943.0" y2="1249.0"/>
<line x1="1942" y1="1249.0" x2="1943.5" y2="1249.0" stroke-width="3"/>
</g>
<g clip-path="url(#cp)">
<path d="M271.2 1059.0 L271.8 1058.3 L272.5 1057.2 L273.1 1057.3 L273.7 1056.8 L274.3 1054.5 L275.0 1053.7 L275.6 1055.4 L276.2 1052.9 L276.9 1052.0 L277.5 1053.5 L278.1 1051.1 L278.7 1051.4 L279.4 1049.4 L280.0 1048.9 L280.6 1046.5 L281.3 1047.0 L281.9 1046.7 L282.5 1044.8 L283.1 1044.6 L283.8 1043.6 L284.4 1041.0 L285.0 1042.2 L285.7 1040.9 L286.3 1039.3 L286.9 1038.0 L287.5 1040.0 L288.2 1038.3 L288.8 1038.6 L289.5 1038.6 L290.1 1037.7 L290.8 1037.4 L291.5 1034.9 L292.1 1035.3 L292.8 1033.3 L293.5 1033.9 L294.1 1032.8 L294.8 1029.6 L295.5 1028.9 L296.1 1028.3 L296.8 1029.7 L297.5 1027.3 L298.1 1027.1 L298.8 1025.4 L299.5 1025.3 L300.1 1024.2 L300.8 1023.4 L301.5 1023.3 L302.1 1022.6 L302.8 1023.0 L303.5 1021.8 L304.1 1021.9 L304.8 1021.1 L305.5 1021.0 L306.1 1019.4 L306.8 1017.0 L307.4 1018.2 L308.0 1017.5 L308.7 1016.4 L309.3 1014.5 L309.9 1014.0 L310.5 1011.8 L311.1 1012.9 L311.8 1011.4 L312.4 1009.9 L313.0 1008.5 L313.6 1010.1 L314.2 1009.9 L314.9 1006.5 L315.5 1007.9 L316.1 1006.1 L316.7 1004.6 L317.3 1004.4 L318.0 1004.9 L318.6 1004.4 L319.2 1001.0 L319.8 1001.9 L320.4 999.3 L321.1 1000.4 L321.7 998.6 L322.3 999.6 L322.9 999.2 L323.5 997.1 L324.2 997.9 L324.8 995.1 L325.4 993.8 L326.0 994.6 L326.6 992.3 L327.3 992.1 L327.9 992.0 L328.5 991.9 L329.1 989.7 L329.8 988.6 L330.4 990.2 L331.0 987.7 L331.6 988.8 L332.3 987.8 L332.9 985.4 L333.5 984.8 L334.1 984.2 L334.8 983.7 L335.4 982.8 L336.0 981.8 L336.6 981.2 L337.3 981.4 L337.9 979.3 L338.5 978.3 L339.1 978.4 L339.8 976.2 L340.4 975.5 L341.0 976.6 L341.6 974.4 L342.3 973.6 L342.9 971.1 L343.6 971.5 L344.3 971.4 L345.1 969.1 L345.8 970.2 L346.5 969.7 L347.2 967.3 L347.9 968.4 L348.7 967.2 L349.4 967.1 L350.1 965.4 L350.8 965.8 L351.5 965.1 L352.3 962.3 L353.0 961.7 L353.7 962.8 L354.4 962.9 L355.1 960.0 L355.9 959.9 L356.6 959.6 L357.3 958.0 L357.9 957.3 L358.5 956.3 L359.1 955.6 L359.7 955.5 L360.3 953.8 L360.9 953.3 L361.5 953.8 L362.1 950.8 L362.7 951.7 L363.3 951.5 L363.9 949.5 L364.5 948.3 L365.1 949.0 L365.7 946.4 L366.3 945.3 L366.9 945.0 L367.5 944.9 L368.1 942.4 L368.8 942.5 L369.5 942.0 L370.3 942.9 L371.0 941.2 L371.7 941.9 L372.4 939.2 L373.1 939.0 L373.9 939.3 L374.6 939.4 L375.3 937.4 L376.0 936.1 L376.7 934.8 L377.5 935.0 L378.2 933.0 L378.9 933.9 L379.6 932.9 L380.3 930.0 L381.1 929.6 L381.8 930.5 L382.5 929.4 L383.2 929.2 L383.9 927.2 L384.7 925.9 L385.4 925.9 L386.1 926.9 L386.9 924.9 L387.6 924.6 L388.4 924.4 L389.1 924.0 L389.9 923.0 L390.6 923.6 L391.4 920.4 L392.2 919.0 L392.9 920.8 L393.7 919.7 L394.4 919.6 L395.2 917.5 L396.0 918.6 L396.7 918.1 L397.5 915.5 L398.2 916.6 L399.0 916.1 L399.7 914.9 L400.5 913.7 L401.1 912.2 L401.8 911.5 L402.4 910.3 L403.0 908.9 L403.7 909.5 L404.3 907.7 L404.9 908.3 L405.5 905.1 L406.2 906.7 L406.8 905.4 L407.4 905.5 L408.1 904.8 L408.7 904.2 L409.3 902.6 L410.0 900.3 L410.6 901.6 L411.2 898.9 L411.8 898.3 L412.5 898.4 L413.1 897.0 L413.7 895.7 L414.4 896.8 L415.0 895.3 L415.7 894.0 L416.4 893.3 L417.2 894.7 L417.9 893.2 L418.6 893.2 L419.3 891.1 L420.0 889.8 L420.8 890.0 L421.5 890.0 L422.2 887.2 L422.9 888.6 L423.6 888.5 L424.4 887.6 L425.1 887.2 L425.8 884.3 L426.5 885.6 L427.2 885.7 L428.0 882.5 L428.7 882.5 L429.4 881.8 L430.2 882.0 L430.9 881.1 L431.7 880.4 L432.4 880.4 L433.2 877.3 L433.9 876.6 L434.7 875.9 L435.5 875.1 L436.2 874.4 L437.0 876.6 L437.7 875.7 L438.5 872.8 L439.3 873.5 L440.0 872.5 L440.8 871.8 L441.5 871.2 L442.3 871.4 L443.0 870.5 L443.8 869.1 L444.5 867.8 L445.2 867.7 L446.0 866.5 L446.7 867.3 L447.4 867.2 L448.1 865.7 L448.8 864.3 L449.6 863.6 L450.3 863.3 L451.0 863.1 L451.7 862.7 L452.4 860.6 L453.2 860.9 L453.9 859.7 L454.6 858.4 L455.3 857.4 L456.0 857.1 L456.8 857.0 L457.5 855.4 L458.2 855.5 L458.9 854.1 L459.6 852.8 L460.4 852.9 L461.1 852.7 L461.8 850.1 L462.5 850.7 L463.2 850.2 L464.0 851.1 L464.7 850.7 L465.4 848.5 L466.1 849.6 L466.8 848.4 L467.6 845.9 L468.3 845.6 L469.0 843.7 L469.7 844.8 L470.4 843.5 L471.2 843.5 L471.9 842.5 L472.6 841.4 L473.3 840.9 L474.0 839.7 L474.8 837.6 L475.5 838.4 L476.2 836.0 L476.9 835.7 L477.6 836.9 L478.4 834.0 L479.1 833.5 L479.8 832.8 L480.5 834.4 L481.2 831.6 L482.0 830.5 L482.7 832.2 L483.4 829.4 L484.1 830.8 L484.8 829.5 L485.6 829.2 L486.3 828.8 L487.0 826.9 L487.8 826.9 L488.6 824.2 L489.4 826.0 L490.2 824.8 L491.0 824.9 L491.8 822.7 L492.6 824.2 L493.4 823.9 L494.2 820.5 L495.0 820.5 L495.8 820.5 L496.6 820.5 L497.4 817.9 L498.2 817.2 L499.0 816.8 L499.8 817.4 L500.6 817.2 L501.4 815.6 L502.1 814.8 L502.8 814.3 L503.6 813.6 L504.3 813.2 L505.0 811.6 L505.8 812.2 L506.5 813.0 L507.2 810.4 L507.9 810.5 L508.6 807.9 L509.4 808.6 L510.1 807.9 L510.8 806.7 L511.5 805.5 L512.3 804.6 L513.0 804.4 L513.7 804.4 L514.4 801.4 L515.2 800.5 L515.9 802.0 L516.7 802.2 L517.6 800.7 L518.4 800.2 L519.3 800.8 L520.1 798.9 L521.0 798.5 L521.8 797.7 L522.7 798.2 L523.5 796.7 L524.4 795.9 L525.2 796.6 L526.1 797.1 L526.9 794.8 L527.8 795.7 L528.6 794.6 L529.5 795.6 L530.3 794.5 L531.1 792.9 L531.9 792.1 L532.7 790.9 L533.5 791.7 L534.3 790.7 L535.1 789.5 L535.9 789.3 L536.7 788.5 L537.5 789.1 L538.3 786.5 L539.1 788.3 L539.9 786.0 L540.7 785.8 L541.5 784.8 L542.3 785.2 L543.1 784.6 L543.9 783.2 L544.7 782.3 L545.4 782.2 L546.1 781.8 L546.8 779.6 L547.5 779.8 L548.2 779.6 L548.9 777.3 L549.5 776.1 L550.2 775.5 L550.9 776.5 L551.6 775.8 L552.3 776.1 L553.0 775.3 L553.7 772.5 L554.4 771.5 L555.2 771.0 L556.0 770.0 L556.8 770.9 L557.6 770.6 L558.4 770.1 L559.2 767.5 L560.0 768.7 L560.8 766.5 L561.6 766.2 L562.4 766.5 L563.2 763.9 L564.0 763.3 L564.8 764.8 L565.6 762.6 L566.4 762.1 L567.2 762.1 L568.0 761.9 L568.8 759.3 L569.6 759.8 L570.5 759.6 L571.3 759.3 L572.2 758.0 L573.0 758.9 L573.9 759.7 L574.7 757.7 L575.6 757.9 L576.4 756.3 L577.3 756.5 L578.1 757.0 L579.0 754.6 L579.8 756.3 L580.7 755.6 L581.5 752.5 L582.4 754.3 L583.2 752.3 L584.0 753.0 L584.7 752.4 L585.5 750.6 L586.3 751.2 L587.0 750.7 L587.8 750.5 L588.5 748.3 L589.3 749.2 L590.1 749.2 L590.8 747.7 L591.6 746.7 L592.4 744.8 L593.1 745.3 L593.9 744.2 L594.6 744.6 L595.4 743.9 L596.2 742.9 L596.9 741.1 L597.7 741.9 L598.5 741.3 L599.4 739.5 L600.2 741.2 L601.1 740.0 L601.9 737.9 L602.8 739.8 L603.6 736.9 L604.5 737.0 L605.3 737.6 L606.2 736.7 L607.0 736.1 L607.9 735.8 L608.7 734.7 L609.6 733.7 L610.4 732.8 L611.3 731.9 L612.1 733.6 L612.9 733.3 L613.8 732.3 L614.6 732.5 L615.5 730.9 L616.3 730.3 L617.2 730.1 L618.0 731.0 L618.9 727.9 L619.7 728.7 L620.6 727.4 L621.4 728.4 L622.3 726.5 L623.1 725.7 L624.0 725.3 L624.8 725.0 L625.7 725.0 L626.5 723.1 L627.3 723.9 L628.2 721.0 L629.0 720.7 L629.9 719.5 L630.7 718.9 L631.5 720.2 L632.4 719.6 L633.2 717.6 L634.1 717.2 L634.9 717.5 L635.7 718.1 L636.6 717.9 L637.4 716.9 L638.3 715.6 L639.1 713.4 L639.8 713.3 L640.6 711.9 L641.3 712.0 L642.1 711.5 L642.8 709.8 L643.5 709.3 L644.3 710.2 L645.0 707.3 L645.8 709.0 L646.5 708.8 L647.3 708.4 L648.0 706.2 L648.7 706.3 L649.5 705.8 L650.2 705.5 L651.0 706.0 L651.7 704.5 L652.5 702.9 L653.4 704.1 L654.2 702.5 L655.1 702.4 L655.9 702.2 L656.8 699.4 L657.6 701.1 L658.5 700.1 L659.3 699.0 L660.2 698.5 L661.0 697.6 L661.9 696.2 L662.7 696.5 L663.6 694.4 L664.4 695.1 L665.3 694.9 L666.1 694.0 L666.7 693.9 L667.3 694.6 L667.9 693.9 L668.5 691.1 L669.1 692.6 L669.7 691.1 L670.3 688.4 L670.9 688.3 L671.5 686.9 L672.1 685.5 L672.7 685.8 L673.3 686.3 L674.1 683.9 L674.8 684.9 L675.6 683.8 L676.3 681.5 L677.1 683.1 L677.8 681.8 L678.6 682.3 L679.4 681.2 L680.1 680.8 L680.9 679.2 L681.6 680.1 L682.4 679.8 L683.2 678.8 L683.9 676.8 L684.7 677.1 L685.4 675.5 L686.2 673.7 L686.9 672.8 L687.7 672.2 L688.5 671.9 L689.2 671.1 L690.0 671.5 L690.8 671.4 L691.5 670.1 L692.3 668.8 L693.0 668.7 L693.8 666.8 L694.6 666.4 L695.3 666.4 L696.1 664.9 L696.9 663.8 L697.6 665.5 L698.4 664.5 L699.1 663.1 L699.9 662.6 L700.7 662.3 L701.4 661.7 L702.2 659.8 L702.9 658.3 L703.6 658.0 L704.4 658.9 L705.1 656.1 L705.8 656.2 L706.5 654.6 L707.2 653.8 L708.0 652.8 L708.7 652.7 L709.4 651.5 L710.1 650.6 L710.8 650.3 L711.6 650.0 L712.3 650.5 L713.0 648.7 L713.6 647.8 L714.2 648.3 L714.8 647.5 L715.4 647.6 L716.0 644.9 L716.6 645.2 L717.2 644.1 L717.8 641.9 L718.4 643.7 L719.0 640.4 L719.6 638.9 L720.2 639.0 L720.8 637.4 L721.4 638.1 L722.0 636.6 L722.6 635.2 L723.2 634.4 L723.8 635.7 L724.5 633.7 L725.1 634.7 L725.8 633.1 L726.4 633.9 L727.1 631.4 L727.7 630.7 L728.4 629.8 L729.0 630.5 L729.7 629.1 L730.3 627.3 L731.0 625.7 L731.7 626.5 L732.3 626.6 L733.0 624.7 L733.6 622.2 L734.3 621.6 L734.9 621.0 L735.6 620.5 L736.2 619.5 L736.9 619.0 L737.5 620.2 L738.2 620.3 L738.5 617.4 L738.8 618.9 L739.1 616.4 L739.4 616.3 L739.7 615.6 L740.0 614.6 L740.3 610.8 L740.6 610.5 L740.9 610.6 L741.2 610.9 L741.5 607.5 L741.8 607.3 L742.1 608.2 L742.4 605.2 L742.7 605.0 L742.9 603.9 L743.1 603.9 L743.2 603.6 L743.4 600.4 L743.6 601.1 L743.8 600.1 L744.0 599.4 L744.1 597.6 L744.3 597.8 L744.5 595.1 L744.7 594.3 L744.9 592.8 L745.0 593.4 L745.2 591.5 L745.4 589.9 L745.6 588.6 L745.9 589.2 L746.1 587.8 L746.4 587.0 L746.6 584.9 L746.8 584.1 L747.1 581.9 L747.3 582.5 L747.6 579.6 L747.8 580.1 L748.0 580.2 L748.3 579.2 L748.5 576.6 L748.8 576.2 L749.0 577.0 L749.2 575.4 L749.4 575.2 L749.6 574.2 L749.8 571.9 L750.1 572.3 L750.3 570.8 L750.5 568.6 L750.7 567.7 L750.9 565.9 L751.1 565.9 L751.3 566.6 L751.5 563.1 L751.8 563.5 L752.0 561.2 L752.2 560.2 L752.4 561.0 L752.6 558.8 L753.1 557.3 L753.5 556.6 L754.0 557.1 L754.4 555.9 L754.9 553.2 L755.3 552.9 L755.8 554.2 L756.2 551.0 L756.6 551.1 L757.1 549.7 L757.5 549.8 L758.0 548.4 L758.7 548.5 L759.4 547.3 L760.2 545.9 L760.9 545.4 L761.6 544.7 L762.3 546.5 L763.0 543.6 L763.8 542.5 L764.5 544.6 L765.2 541.5 L766.1 543.0 L767.0 539.9 L767.9 540.5 L768.8 539.3 L769.7 540.6 L770.6 539.4 L771.5 538.9 L772.4 538.8 L773.3 538.9 L774.2 537.2 L775.2 537.9 L776.1 537.5 L777.1 536.5 L778.0 538.7 L779.0 537.6 L779.9 537.9 L780.9 535.7 L781.8 536.3 L782.8 535.7 L783.7 536.1 L784.7 534.0 L785.6 534.6 L786.6 534.8 L787.5 533.4 L788.5 534.7 L789.4 535.0 L790.4 533.8 L791.3 534.1 L792.3 533.6 L793.3 532.3 L794.3 532.6 L795.3 534.3 L796.3 532.3 L797.3 532.4 L798.3 531.3 L799.3 531.6 L800.3 531.3 L801.3 533.5 L802.3 532.9 L803.3 533.4 L804.3 533.7 L805.3 532.6 L806.3 533.5 L807.3 532.4 L808.3 532.1 L809.3 533.8 L810.3 533.8 L811.3 534.0 L812.3 532.7 L813.3 533.7 L814.3 532.4 L815.3 533.9 L816.3 533.5 L817.3 531.4 L818.3 533.1 L819.3 530.6 L820.3 530.5 L821.3 532.5 L822.3 531.4 L823.3 532.2 L824.3 532.7 L825.3 531.0 L826.3 532.9 L827.3 531.3 L828.3 531.5 L829.3 530.9 L830.3 531.8 L831.3 531.4 L832.3 530.1 L833.3 529.6 L834.3 530.2 L835.3 530.5 L836.3 529.6 L837.3 529.8 L838.3 531.3 L839.3 530.7 L840.3 531.2 L841.3 530.8 L842.3 530.2 L843.3 528.3 L844.3 527.6 L845.3 528.0 L846.3 528.3 L847.3 528.6 L848.3 528.7 L849.3 528.3 L850.3 529.7 L851.3 527.9 L852.3 528.3 L853.3 529.5 L854.3 529.1 L855.3 527.5 L856.3 527.4 L857.3 529.1 L858.3 526.7 L859.3 527.0 L860.3 528.3 L861.3 528.3 L862.3 527.3 L863.3 527.0 L864.3 527.6 L865.3 529.4 L866.3 528.5 L867.3 530.1 L868.3 529.4 L869.3 529.9 L870.3 527.0 L871.3 527.4 L872.3 526.7 L873.3 527.9 L874.3 527.6 L875.3 526.8 L876.3 528.3 L877.3 526.9 L878.3 527.6 L879.3 527.4 L880.3 528.9 L881.3 527.6 L882.3 527.0 L883.2 526.7 L884.1 528.2 L885.0 529.1 L885.9 529.7 L886.8 530.9 L887.7 531.1 L888.5 529.0 L889.4 528.2 L890.2 529.6 L891.1 529.2 L891.9 527.9 L892.8 528.4 L893.6 527.1 L894.5 525.8 L895.3 525.0 L896.2 524.2 L897.0 525.8 L897.9 526.2 L898.7 525.9 L899.6 524.3 L900.4 524.6 L901.3 524.9 L902.3 524.0 L903.2 522.8 L904.2 521.7 L905.1 521.5 L906.1 520.0 L907.0 519.8 L908.0 521.1 L908.9 521.9 L909.9 520.3 L910.8 519.7 L911.8 519.4 L912.7 519.6 L913.7 520.4 L914.6 519.2 L915.6 520.6 L916.5 518.0 L917.5 518.4 L918.4 518.6 L919.3 517.9 L920.3 518.8 L921.2 518.4 L922.1 518.3 L923.1 517.0 L924.0 514.8 L924.9 516.1 L925.9 515.6 L926.8 515.0 L927.7 514.0 L928.7 514.9 L929.6 515.4 L930.5 512.9 L931.5 514.5 L932.4 513.6 L933.3 513.9 L934.3 515.0 L935.2 514.6 L936.1 513.1 L937.1 511.2 L938.0 512.8 L939.0 510.3 L940.0 510.5 L941.0 511.8 L942.0 510.3 L943.0 510.1 L944.0 512.1 L945.0 512.0 L946.0 510.1 L947.0 510.2 L948.0 509.8 L949.0 509.3 L950.0 509.6 L951.0 511.7 L952.0 508.9 L953.0 509.4 L954.0 509.4 L955.0 509.1 L956.0 510.5 L956.9 511.7 L957.8 512.4 L958.7 512.3 L959.6 513.3 L960.5 511.4 L961.4 512.7 L962.3 515.2 L963.2 513.0 L964.1 513.8 L965.0 514.6 L965.5 513.0 L966.0 512.8 L966.5 510.3 L966.9 509.9 L967.4 511.2 L967.9 507.9 L968.4 509.3 L968.9 506.3 L969.4 507.9 L969.9 506.1 L970.4 505.4 L970.8 503.2 L971.3 502.2 L971.8 503.6 L972.3 501.2 L973.3 501.4 L974.3 503.0 L975.3 502.9 L976.2 500.2 L977.2 502.6 L978.2 501.1 L979.2 500.4 L980.2 499.5 L981.2 500.3 L982.1 502.0 L983.1 499.8 L984.1 499.3 L985.1 499.3 L986.1 499.4 L987.1 500.2 L988.1 502.0 L989.0 499.7 L990.0 500.2 L991.0 502.6 L992.0 502.5 L992.9 502.0 L993.9 499.3 L994.8 499.2 L995.8 500.5 L996.7 498.7 L997.7 499.2 L998.6 497.9 L999.6 496.8 L1000.5 497.7 L1001.5 498.7 L1002.4 498.7 L1003.4 497.6 L1004.3 496.9 L1005.3 496.7 L1006.2 496.1 L1007.2 495.9 L1008.1 496.4 L1009.1 494.4 L1010.0 495.4 L1010.9 496.3 L1011.9 496.0 L1012.8 493.9 L1013.8 496.1 L1014.7 495.6 L1015.7 493.4 L1016.6 493.5 L1017.6 493.2 L1018.5 492.6 L1019.5 495.2 L1020.4 493.1 L1021.4 494.2 L1022.3 491.5 L1023.3 490.9 L1024.2 493.1 L1025.2 492.5 L1026.1 492.8 L1027.1 491.6 L1028.0 490.8 L1029.0 491.4 L1030.0 489.2 L1031.0 490.3 L1032.0 490.0 L1033.0 489.1 L1034.0 490.4 L1035.0 489.5 L1036.0 490.1 L1037.0 489.6 L1038.0 489.4 L1039.0 489.4 L1040.0 490.0 L1041.0 490.9 L1042.0 490.4 L1043.0 489.9 L1044.0 489.4 L1045.0 487.2 L1046.0 488.8 L1047.0 486.2 L1048.0 485.3 L1049.0 485.9 L1049.9 486.2 L1050.8 484.6 L1051.7 485.1 L1052.6 483.5 L1053.5 485.2 L1054.4 483.2 L1055.3 482.8 L1056.2 482.6 L1057.1 483.2 L1058.0 483.1 L1058.9 481.2 L1059.8 480.4 L1060.7 480.5 L1061.6 478.3 L1062.5 478.9 L1063.4 479.6 L1064.3 478.9 L1065.2 476.3 L1066.1 478.0 L1067.0 476.0 L1067.7 477.1 L1068.4 474.5 L1069.1 473.3 L1069.8 473.5 L1070.5 474.0 L1071.2 472.1 L1071.8 472.8 L1072.5 471.8 L1073.2 470.2 L1073.9 469.4 L1074.6 469.2 L1075.3 468.1 L1076.0 467.2 L1076.9 467.9 L1077.8 468.4 L1078.7 467.4 L1079.6 466.2 L1080.5 466.6 L1080.9 466.4 L1081.3 466.4 L1081.7 464.3 L1082.1 463.4 L1082.5 463.1 L1083.0 462.0 L1083.4 460.1 L1083.8 460.6 L1084.2 460.7 L1084.6 458.5 L1085.0 458.2 L1085.5 457.6 L1086.1 456.8 L1086.6 456.2 L1087.1 453.9 L1087.6 453.8 L1088.2 451.2 L1088.7 452.6 L1089.2 450.3 L1089.8 449.7 L1090.3 450.1 L1090.8 447.4 L1091.4 446.3 L1091.9 447.4 L1092.4 445.9 L1092.9 443.6 L1093.5 442.6 L1094.0 442.8 L1094.5 440.9 L1095.0 442.6 L1095.5 439.8 L1096.0 439.2 L1096.5 438.7 L1097.0 438.3 L1097.5 437.4 L1098.0 437.3 L1098.5 436.7 L1099.0 435.4 L1099.5 433.7 L1100.0 435.7 L1100.5 433.8 L1101.0 431.0 L1101.5 431.1 L1102.0 431.0 L1102.5 430.7 L1103.0 426.9 L1103.5 425.9 L1104.0 426.5 L1104.5 425.5 L1105.0 426.1 L1105.5 425.0 L1106.0 422.7 L1106.5 422.3 L1107.0 422.1 L1107.5 422.3 L1108.0 419.6 L1108.5 419.5 L1109.0 417.9 L1109.5 418.7 L1110.0 416.0 L1110.5 417.9 L1111.0 415.8 L1111.5 415.1 L1112.0 412.8 L1112.5 412.3 L1113.0 412.1 L1113.5 412.4 L1114.0 410.5 L1114.6 408.9 L1115.1 410.1 L1115.6 408.1 L1116.1 406.7 L1116.6 404.7 L1117.2 404.0 L1117.9 404.8 L1118.5 401.5 L1119.1 401.9 L1119.7 401.3 L1120.4 399.7 L1121.0 400.1 L1121.9 400.0 L1122.8 399.3 L1123.8 398.5 L1124.7 396.3 L1125.6 395.4 L1126.5 396.0 L1127.4 395.9 L1128.3 395.9 L1129.2 398.0 L1130.1 396.2 L1131.0 398.2 L1131.9 398.7 L1132.7 396.7 L1133.4 399.6 L1134.2 398.6 L1135.0 398.6 L1135.8 399.1 L1136.5 399.2 L1137.3 401.2 L1138.1 401.4 L1138.9 403.3 L1139.7 403.7 L1140.4 401.8 L1141.2 403.3 L1142.0 403.8 L1142.8 403.6 L1143.6 404.3 L1144.2 405.1 L1144.9 407.2 L1145.5 406.9 L1146.1 407.0 L1146.8 408.1 L1147.4 409.7 L1148.0 411.0 L1148.6 410.9 L1149.3 413.2 L1149.9 412.6 L1150.5 415.0 L1151.1 415.6 L1151.7 415.0 L1152.3 417.5 L1152.9 417.2 L1153.5 418.4 L1154.1 419.4 L1154.7 420.2 L1155.3 420.4 L1155.9 420.0 L1156.4 422.9 L1157.0 423.9 L1157.5 423.5 L1158.1 424.6 L1158.7 424.4 L1159.2 427.1 L1159.8 427.3 L1160.7 426.4 L1161.6 428.6 L1162.5 429.7 L1163.4 428.3 L1164.3 430.7 L1165.2 429.7 L1166.1 429.3 L1167.0 431.4 L1167.9 430.7 L1168.8 432.4 L1169.7 432.4 L1170.6 431.5 L1171.5 433.2 L1172.4 434.6 L1173.3 433.8 L1174.2 434.2 L1175.1 435.4 L1175.9 434.6 L1176.6 435.2 L1177.4 435.9 L1178.2 437.5 L1179.0 436.6 L1179.7 437.1 L1180.5 440.0 L1181.5 439.6 L1182.5 439.1 L1183.5 440.7 L1184.5 440.6 L1185.5 439.4 L1186.5 440.6 L1187.5 440.0 L1188.5 439.6 L1189.5 438.2 L1190.4 437.7 L1191.3 440.0 L1192.2 440.5 L1193.1 439.6 L1194.0 440.4 L1195.0 441.2 L1195.9 440.8 L1196.8 442.6 L1197.7 442.8 L1198.6 442.8 L1199.5 442.5 L1200.4 444.1 L1201.3 443.7 L1202.2 445.3 L1203.1 443.9 L1204.0 444.9 L1204.9 444.6 L1205.8 445.4 L1206.7 446.2 L1207.6 445.0 L1208.4 444.3 L1209.3 445.0 L1210.1 443.6 L1210.9 444.0 L1211.7 442.4 L1212.6 441.7 L1213.4 442.5 L1214.3 444.0 L1215.1 444.3 L1216.0 443.9 L1216.9 444.2 L1217.7 443.9 L1218.6 445.1 L1219.4 445.9 L1220.3 448.4 L1221.2 446.5 L1222.0 449.5 L1222.9 448.6 L1223.9 448.2 L1224.9 447.4 L1225.9 449.2 L1226.9 446.6 L1227.9 447.5 L1228.9 447.0 L1229.9 445.8 L1230.9 445.5 L1231.9 447.5 L1232.9 446.7 L1233.9 446.3 L1234.9 446.5 L1236.0 443.9 L1237.0 445.5 L1238.0 445.4 L1239.0 443.8 L1240.0 444.4 L1241.0 446.1 L1241.9 444.3 L1242.9 445.8 L1243.9 444.1 L1244.8 445.5 L1245.8 444.3 L1246.8 444.9 L1247.8 444.4 L1248.7 445.8 L1249.7 445.3 L1250.4 444.1 L1251.2 444.2 L1251.9 442.9 L1252.6 443.6 L1253.3 441.4 L1254.1 441.8 L1254.8 441.2 L1255.5 440.0 L1256.3 438.2 L1257.0 437.9 L1257.9 439.8 L1258.8 439.0 L1259.7 441.1 L1260.6 440.8 L1261.5 442.6 L1262.4 442.8 L1263.3 442.9 L1264.2 442.3 L1265.1 442.0 L1266.0 444.2 L1267.0 445.0 L1268.1 445.8 L1269.1 443.8 L1270.1 443.9 L1271.1 446.3 L1272.2 445.6 L1273.2 444.8 L1274.2 445.5 L1275.3 443.6 L1276.3 444.8 L1277.3 445.1 L1278.3 444.9 L1279.4 443.5 L1280.4 443.4 L1281.4 444.7 L1282.4 445.3 L1283.4 443.1 L1284.4 442.7 L1285.4 442.9 L1286.4 445.0 L1287.4 443.9 L1288.4 444.1 L1289.4 445.6 L1290.4 444.3 L1291.4 443.1 L1292.4 444.3 L1293.4 442.1 L1294.4 442.8 L1295.4 444.2 L1296.4 442.6 L1297.4 442.3 L1298.4 443.8 L1299.4 443.0 L1300.3 444.7 L1301.3 441.9 L1302.3 443.8 L1303.2 442.3 L1304.2 443.4 L1305.2 442.1 L1306.2 442.6 L1307.1 441.2 L1308.1 440.6 L1309.1 440.9 L1310.0 441.6 L1311.0 439.9 L1311.8 439.3 L1312.7 439.4 L1313.6 438.0 L1314.4 438.3 L1315.2 438.3 L1315.9 437.4 L1316.7 436.8 L1317.4 435.1 L1318.2 433.5 L1318.9 432.7 L1319.7 432.8 L1320.4 431.5 L1321.2 431.8 L1321.9 430.2 L1322.7 431.1 L1323.4 430.0 L1324.1 430.9 L1324.8 431.9 L1325.6 432.0 L1326.3 432.4 L1327.0 432.7 L1327.7 432.7 L1328.4 435.6 L1329.2 435.4 L1329.9 434.9 L1330.6 438.2 L1331.5 436.8 L1332.4 436.6 L1333.3 435.7 L1334.2 434.4 L1335.1 436.7 L1336.0 433.9 L1336.9 434.2 L1337.8 435.8 L1338.7 432.8 L1339.6 433.6 L1340.5 433.3 L1341.4 432.0 L1342.3 433.4 L1343.2 431.3 L1344.1 429.5 L1345.0 430.3 L1345.6 427.9 L1346.2 429.4 L1346.8 429.2 L1347.4 428.6 L1348.0 425.3 L1348.7 426.5 L1349.3 424.7 L1349.9 424.4 L1350.5 423.0 L1351.1 422.2 L1351.7 420.8 L1352.3 421.5 L1353.3 420.1 L1354.3 423.1 L1355.3 420.7 L1356.3 423.9 L1357.3 421.9 L1358.3 422.0 L1359.3 424.3 L1360.3 424.0 L1361.3 425.1 L1362.2 423.9 L1363.0 423.8 L1363.9 421.8 L1364.7 423.1 L1365.6 422.0 L1366.4 422.8 L1367.3 419.3 L1368.2 418.9 L1369.0 420.1 L1369.9 420.3 L1370.7 418.4 L1371.6 418.8 L1372.4 418.0 L1373.3 417.0 L1374.2 416.8 L1375.0 416.8 L1375.9 414.6 L1376.7 414.8 L1377.6 415.5 L1378.4 413.5 L1379.3 413.6 L1380.3 412.9 L1381.3 413.4 L1382.2 414.4 L1383.2 414.8 L1384.2 415.6 L1385.2 414.3 L1386.2 413.6 L1387.2 414.1 L1388.1 413.4 L1389.1 414.1 L1390.1 415.3 L1390.8 414.7 L1391.4 412.9 L1392.1 411.8 L1392.7 410.6 L1393.4 410.0 L1394.0 410.0 L1394.7 408.4 L1395.3 409.4 L1396.0 407.8 L1396.6 406.5 L1397.3 406.2 L1398.3 404.9 L1399.3 406.9 L1400.2 406.8 L1401.2 405.4 L1402.2 406.3 L1403.2 404.7 L1404.2 404.3 L1405.2 404.0 L1406.1 403.7 L1407.1 404.6 L1408.1 404.3 L1409.1 404.8 L1410.2 403.0 L1411.2 405.2 L1412.2 404.5 L1413.2 404.5 L1414.3 405.1 L1415.3 405.2 L1416.2 404.1 L1417.1 404.2 L1418.0 404.5 L1418.9 404.4 L1419.8 404.8 L1420.7 402.3 L1421.6 404.1 L1422.5 403.6 L1423.4 403.0 L1424.3 403.2 L1425.2 400.1 L1426.1 401.4 L1427.0 401.2 L1427.9 398.3 L1428.8 399.1 L1429.7 399.6 L1430.6 397.2 L1431.5 398.4 L1432.4 398.9 L1433.3 397.9 L1434.2 397.5 L1435.1 398.2 L1436.0 400.5 L1436.9 399.8 L1437.8 399.9 L1438.7 400.8 L1439.7 402.0 L1440.7 399.7 L1441.6 398.7 L1442.6 401.2 L1443.6 399.1 L1444.6 399.0 L1445.6 400.5 L1446.6 398.1 L1447.5 397.1 L1448.5 399.1 L1449.5 396.8 L1450.5 396.7 L1451.5 398.8 L1452.4 396.7 L1453.4 398.7 L1454.4 397.0 L1455.4 396.9 L1456.3 396.6 L1457.3 397.6 L1458.3 397.6 L1459.3 397.1 L1460.2 397.4 L1461.2 396.8 L1462.2 398.4 L1463.1 398.2 L1464.0 397.2 L1464.9 396.9 L1465.8 394.2 L1466.7 394.3 L1467.6 393.6 L1468.5 393.0 L1469.4 395.1 L1469.9 395.8 L1470.5 396.7 L1471.0 396.6 L1471.6 396.2 L1472.1 398.0 L1472.6 397.7 L1473.2 401.1 L1473.7 400.1 L1474.3 401.0 L1474.8 403.8 L1475.8 401.8 L1476.7 404.0 L1477.7 402.2 L1478.7 403.3 L1479.6 401.7 L1480.6 404.2 L1481.6 402.7 L1482.6 402.9 L1483.5 404.2 L1484.5 404.4 L1485.5 403.7 L1486.4 403.7 L1487.4 405.4 L1488.0 402.9 L1488.7 404.6 L1489.3 402.2 L1489.9 400.9 L1490.6 400.6 L1491.2 399.1 L1491.8 399.2 L1492.4 399.3 L1493.1 398.4 L1493.7 397.7 L1494.3 398.6 L1494.8 400.2 L1495.4 401.9 L1496.0 401.7 L1496.6 403.5 L1497.1 403.4 L1497.7 403.2 L1498.3 404.1 L1498.9 406.7 L1499.4 406.2 L1500.0 406.5 L1500.9 406.2 L1501.8 406.4 L1502.7 404.3 L1503.6 403.9 L1504.5 403.6 L1505.4 402.2 L1506.3 403.4 L1507.2 402.9 L1508.1 402.6 L1508.7 403.2 L1509.2 403.9 L1509.8 405.3 L1510.3 404.4 L1510.9 407.5 L1511.5 405.6 L1512.0 408.6 L1512.6 407.2 L1513.6 409.1 L1514.6 407.5 L1515.5 407.0 L1516.5 408.3 L1517.5 409.6 L1518.5 409.9 L1519.5 410.3 L1520.5 410.9 L1521.4 408.4 L1522.4 409.7 L1523.4 409.0 L1524.4 411.0 L1525.4 410.2 L1526.3 411.2 L1527.3 411.4 L1528.3 412.1 L1529.3 411.2 L1530.3 411.9 L1531.3 410.9 L1532.2 409.6 L1533.2 412.0 L1534.2 409.7 L1535.0 410.2 L1535.7 413.0 L1536.5 411.9 L1537.2 413.6 L1538.0 412.3 L1538.7 413.4 L1539.5 414.2 L1540.2 411.6 L1541.0 412.3 L1541.7 413.0 L1542.5 410.2 L1543.2 411.0 L1544.2 411.3 L1545.2 411.1 L1546.2 411.7 L1547.2 411.6 L1548.3 409.8 L1549.3 410.5 L1550.3 411.8 L1551.3 413.5 L1552.3 411.6 L1553.3 412.7 L1554.3 411.4 L1555.3 413.6 L1556.3 412.3 L1557.3 412.6 L1558.3 413.0 L1559.3 411.4 L1560.3 413.2 L1561.3 413.4 L1562.3 413.6 L1563.3 411.9 L1564.3 411.9 L1565.3 411.7 L1566.3 414.0 L1567.3 412.7 L1568.3 412.5 L1569.3 412.9 L1570.3 413.4 L1571.2 411.9 L1572.1 411.6 L1573.0 412.5 L1573.9 412.0 L1574.8 410.0 L1575.7 408.8 L1576.5 410.8 L1577.4 409.7 L1578.3 408.8 L1579.2 407.8 L1580.1 409.0 L1581.0 407.1 L1581.7 407.0 L1582.5 407.3 L1583.2 408.6 L1583.9 410.1 L1584.7 410.1 L1585.4 412.6 L1586.1 412.4 L1586.8 412.6 L1587.6 413.9 L1588.3 414.4 L1589.3 414.3 L1590.2 413.9 L1591.2 413.8 L1592.1 413.6 L1593.1 414.6 L1594.1 412.4 L1595.0 414.0 L1596.0 412.4 L1596.9 413.8 L1597.9 411.3 L1598.9 412.4 L1599.8 412.3 L1600.8 413.1 L1601.7 411.6 L1602.7 411.8 L1603.6 411.1 L1604.5 412.1 L1605.4 411.7 L1606.3 409.5 L1607.2 409.6 L1608.1 409.2 L1609.0 411.1 L1609.9 409.1 L1610.8 408.9 L1611.7 407.6 L1612.7 409.0 L1613.7 409.7 L1614.7 409.5 L1615.7 407.7 L1616.7 409.3 L1617.7 409.7 L1618.7 408.6 L1619.7 411.1 L1620.7 410.0 L1621.7 409.6 L1622.7 410.4 L1623.6 410.1 L1624.6 409.6 L1625.6 410.5 L1626.6 409.3 L1627.6 408.6 L1628.6 407.3 L1629.5 408.4 L1630.5 407.4 L1631.5 407.6 L1632.4 407.3 L1633.3 406.6 L1634.2 407.3 L1635.2 408.3 L1636.1 408.7 L1637.0 411.6 L1637.6 410.3 L1638.3 408.7 L1638.9 409.2 L1639.6 408.0 L1640.2 405.3 L1640.9 406.5 L1641.5 404.0 L1642.2 405.3 L1642.8 402.3 L1643.5 402.2 L1644.1 401.6 L1645.1 403.7 L1646.1 403.9 L1647.1 403.5 L1648.1 402.2 L1649.1 403.0 L1650.1 403.9 L1651.1 401.9 L1652.1 404.5 L1653.1 404.3 L1654.1 404.5 L1655.1 403.8 L1656.0 403.5 L1657.0 404.6 L1658.0 402.4 L1659.0 402.5 L1660.0 402.0 L1661.0 402.2 L1662.0 404.1 L1663.0 402.1 L1664.0 404.1 L1665.0 403.1 L1666.0 404.7 L1667.0 404.6 L1668.0 404.4 L1669.0 405.0 L1669.9 402.7 L1670.9 403.4 L1671.9 403.6 L1672.9 403.7 L1673.9 404.4 L1674.9 404.9 L1675.8 404.4 L1676.8 404.9 L1677.8 404.2 L1678.8 403.3 L1679.8 403.7 L1680.7 404.5 L1681.7 404.7 L1682.7 403.4 L1683.7 403.1 L1684.7 403.7 L1685.7 402.3 L1686.6 404.1 L1687.6 401.2 L1688.6 402.9 L1689.4 402.1 L1690.2 400.8 L1691.0 401.6 L1691.8 400.9 L1692.7 402.0 L1693.5 401.4 L1694.3 399.7 L1695.1 399.8 L1695.9 399.1 L1696.9 396.8 L1697.9 398.7 L1698.9 398.6 L1700.0 399.0 L1701.0 398.4 L1702.0 397.3 L1703.0 396.7 L1704.0 398.0 L1705.0 396.7 L1706.0 398.5 L1707.0 398.0 L1708.0 398.8 L1709.1 397.5 L1710.1 397.4 L1711.1 399.3 L1712.1 398.6 L1713.0 397.4 L1714.0 397.6 L1714.9 396.9 L1715.9 397.2 L1716.8 396.5 L1717.8 395.5 L1718.7 397.2 L1719.7 396.6 L1720.6 395.9 L1721.6 394.1 L1722.5 393.6 L1723.5 394.8 L1724.4 394.8 L1725.4 393.9 L1726.3 392.3 L1727.3 393.5 L1728.2 392.6 L1729.2 391.9 L1730.1 392.3 L1730.9 391.3 L1731.6 391.3 L1732.4 391.0 L1733.2 391.1 L1734.0 387.7 L1734.7 388.3 L1735.5 388.7 L1736.4 388.3 L1737.3 388.5 L1738.2 389.7 L1739.1 387.9 L1740.0 390.8 L1740.9 390.9 L1741.8 391.4 L1742.7 391.2 L1743.7 391.9 L1744.6 390.3 L1745.6 391.4 L1746.5 390.4 L1747.5 392.3 L1748.5 391.8 L1749.4 390.7 L1750.4 391.0 L1751.3 389.4 L1752.3 389.3 L1753.3 387.7 L1754.2 389.3 L1755.2 388.5 L1756.1 388.2 L1757.1 385.8 L1758.1 388.1 L1759.1 385.8 L1760.1 387.6 L1761.1 387.4 L1762.1 386.5 L1763.1 387.9 L1764.1 389.6 L1765.1 389.1 L1766.1 388.5 L1767.1 390.0 L1768.0 388.3 L1769.0 389.5 L1769.9 387.6 L1770.9 386.3 L1771.9 388.6 L1772.8 385.5 L1773.8 385.9 L1774.7 387.2 L1775.7 385.1 L1776.7 386.2 L1777.6 386.9 L1778.6 385.9 L1779.5 385.0 L1780.5 386.0 L1781.5 386.0 L1782.5 385.1 L1783.5 385.1 L1784.4 384.1 L1785.4 384.2 L1786.4 385.8 L1787.4 385.6 L1788.4 382.6 L1789.4 383.1 L1790.4 383.0 L1791.3 384.5 L1792.3 382.4 L1793.3 382.0 L1794.3 383.5 L1795.3 381.4 L1796.3 383.6 L1797.3 382.0 L1798.3 383.3 L1799.2 383.0 L1800.2 381.2 L1801.2 382.9 L1802.2 381.7 L1803.0 380.3 L1803.8 379.0 L1804.7 380.1 L1805.5 378.8 L1806.3 377.2 L1807.2 378.0 L1808.0 375.7 L1808.8 376.1 L1809.6 374.7 L1810.4 375.2 L1811.3 376.4 L1812.1 374.9 L1813.0 374.1 L1813.9 374.6 L1814.8 376.1 L1815.7 375.2 L1816.6 377.3 L1817.5 375.0 L1818.4 378.0 L1819.3 377.7 L1820.2 378.8 L1821.1 377.1 L1822.0 376.0 L1822.9 376.1 L1823.8 377.0 L1824.7 374.7 L1825.6 374.5 L1826.5 376.1 L1827.4 375.9 L1828.3 375.4 L1829.2 375.1 L1830.1 374.1 L1831.1 375.0 L1832.0 374.4 L1833.0 373.8 L1833.9 373.3 L1834.9 371.8 L1835.8 371.6 L1836.8 371.8 L1837.7 372.1 L1838.7 370.7 L1839.6 372.9 L1840.6 371.5 L1841.5 371.9 L1842.5 372.1 L1843.4 370.0 L1844.4 371.8 L1845.3 371.8 L1846.3 369.4 L1847.2 368.7 L1848.2 370.5 L1849.1 370.5 L1850.1 369.9 L1851.0 368.5 L1852.0 369.0 L1853.0 367.5 L1853.9 367.9 L1854.9 368.4 L1855.8 369.4 L1856.8 367.4 L1857.8 369.7 L1858.7 366.8 L1859.7 369.4 L1860.6 367.0 L1861.6 368.6 L1862.2 367.8 L1862.8 367.3 L1863.4 364.9 L1864.0 364.7 L1864.6 362.5 L1865.2 363.2 L1866.2 361.1 L1867.2 363.8 L1868.2 363.3 L1869.2 362.0 L1870.2 365.1 L1871.2 363.5 L1872.2 363.2 L1873.2 364.0 L1874.2 363.6 L1875.2 364.1 L1876.1 365.1 L1877.1 365.8 L1878.0 364.5 L1879.0 364.6 L1879.9 364.0 L1880.9 363.2 L1881.8 361.7 L1882.8 360.8 L1883.7 360.1 L1884.7 360.9 L1885.6 359.6 L1886.6 360.9 L1887.5 359.4 L1888.5 359.8 L1889.4 359.4 L1890.4 359.6 L1891.3 358.1 L1892.3 358.4 L1893.2 359.6 L1894.2 358.0 L1895.1 359.3 L1896.1 359.9 L1897.0 357.8 L1898.0 359.2 L1898.9 357.8 L1899.9 358.5 L1900.8 356.9 L1901.8 357.0 L1902.7 356.2 L1903.7 354.2 L1904.6 354.6 L1905.6 354.2 L1906.5 353.3 L1907.5 353.7 L1908.4 354.3 L1909.4 353.8 L1910.3 353.7 L1911.2 351.7 L1912.2 353.3 L1913.1 352.9 L1914.1 353.7 L1915.0 350.7 L1916.0 351.0 L1916.9 353.2 L1917.9 351.2 L1918.8 351.8 L1919.8 351.0 L1920.7 350.0 L1921.7 349.6 L1922.6 349.6 L1923.6 350.4 L1924.5 349.0 L1925.5 349.7 L1926.4 348.1 L1927.4 349.3 L1928.3 348.9 L1929.2 349.0 L1930.1 348.8 L1931.0 345.8 L1931.9 347.9 L1932.8 346.2 L1933.7 344.6 L1934.6 344.6 L1935.5 343.2 L1936.4 343.3 L1937.3 344.8 L1938.2 344.1 L1939.1 344.3 L1940.0 341.9 L1940.9 341.2 L1941.8 341.4 L1942.7 341.3 L1943.6 341.5 L1944.6 339.9 L1945.5 340.9 L1946.5 340.1 L1947.4 339.0 L1948.4 340.2 L1949.3 337.8 L1950.3 339.0 L1951.2 337.5 L1952.2 336.7 L1953.1 337.6 L1954.1 337.4 L1955.0 337.4" fill="none" stroke="#000" stroke-width="8.70" stroke-linejoin="round" stroke-linecap="butt" shape-rendering="crispEdges"/>
</g>
<g stroke="#000" fill="none" stroke-linecap="butt" shape-rendering="crispEdges">
<line x1="806.7" y1="455.5" x2="764.3" y2="530.6" stroke-width="3.6"/>
<line x1="1170.5" y1="308.5" x2="1127.2" y2="384.5" stroke-width="3.6"/>
<line x1="1488.5" y1="306.0" x2="1445.5" y2="381.5" stroke-width="3.6"/>
<line x1="1179.0" y1="624.7" x2="1136.0" y2="700.0" stroke-width="3.6"/>
<line x1="983.5" y1="758.0" x2="1015.7" y2="826.0" stroke-width="4.6"/>
<line x1="1369.0" y1="734.0" x2="1326.0" y2="809.6" stroke-width="3.6"/>
<line x1="1176.0" y1="937.3" x2="1133.2" y2="1012.0" stroke-width="3.6"/>
<line x1="919.3" y1="1050.0" x2="950.3" y2="1116.2" stroke-width="4.6"/>
<line x1="1396.3" y1="1041.3" x2="1353.7" y2="1115.6" stroke-width="3.6"/>
</g>
<text transform="translate(139.43 115.50) scale(0.9383 1)" font-size="63.70" font-family="Liberation Serif, serif">0.05</text>
<text transform="translate(139.43 328.50) scale(0.9383 1)" font-size="63.70" font-family="Liberation Serif, serif">0.04</text>
<text transform="translate(139.43 541.50) scale(0.9383 1)" font-size="63.70" font-family="Liberation Serif, serif">0.03</text>
<text transform="translate(139.43 754.50) scale(0.9383 1)" font-size="63.70" font-family="Liberation Serif, serif">0.02</text>
<text transform="translate(139.43 967.50) scale(0.9383 1)" font-size="63.70" font-family="Liberation Serif, serif">0.01</text>
<text transform="translate(139.43 1180.50) scale(0.9383 1)" font-size="63.70" font-family="Liberation Serif, serif">0.00</text>
<text transform="translate(120.86 1393.50) scale(0.9090 1)" font-size="63.70" font-family="Liberation Serif, serif" >-0.01</text>
<text transform="translate(1983.41 115.50) scale(0.9459 1)" font-size="63.70" font-family="Liberation Serif, serif">0.10</text>
<text transform="translate(1983.41 371.10) scale(0.9459 1)" font-size="63.70" font-family="Liberation Serif, serif">0.08</text>
<text transform="translate(1983.41 626.70) scale(0.9459 1)" font-size="63.70" font-family="Liberation Serif, serif">0.06</text>
<text transform="translate(1983.41 882.30) scale(0.9459 1)" font-size="63.70" font-family="Liberation Serif, serif">0.04</text>
<text transform="translate(1983.41 1137.90) scale(0.9459 1)" font-size="63.70" font-family="Liberation Serif, serif">0.02</text>
<text transform="translate(1983.41 1393.50) scale(0.9459 1)" font-size="63.70" font-family="Liberation Serif, serif">0.00</text>
<text transform="translate(422.71 1450.30) scale(0.9587 1)" font-size="63.70" font-family="Liberation Serif, serif" >200</text>
<text transform="translate(820.17 1450.30) scale(0.9678 1)" font-size="63.70" font-family="Liberation Serif, serif" >400</text>
<text transform="translate(1216.05 1450.30) scale(0.9658 1)" font-size="63.70" font-family="Liberation Serif, serif" >600</text>
<text transform="translate(1614.10 1450.30) scale(0.9503 1)" font-size="63.70" font-family="Liberation Serif, serif" >800</text>
<text transform="translate(1796.27 357.20) scale(0.7715 1)" font-size="63.70" font-family="Liberation Serif, serif" >1</text>
<text transform="translate(1791.17 772.80) scale(1.1157 1)" font-size="63.70" font-family="Liberation Serif, serif" >2</text>
<text transform="translate(1795.82 1085.50) scale(0.9427 1)" font-size="63.70" font-family="Liberation Serif, serif" >3</text>
<text transform="translate(790.92 435.00) scale(0.9821 1)" font-size="50.50" font-family="Liberation Serif, serif" >352.7°C</text>
<text transform="translate(1146.45 301.70) scale(0.9728 1)" font-size="50.50" font-family="Liberation Serif, serif" >530.5°C</text>
<text transform="translate(1469.88 286.00) scale(0.9756 1)" font-size="50.50" font-family="Liberation Serif, serif" >696.8°C</text>
<text transform="translate(1155.46 610.70) scale(0.9685 1)" font-size="50.50" font-family="Liberation Serif, serif" >537.9°C</text>
<text transform="translate(862.22 716.90) scale(0.9724 1)" font-size="50.50" font-family="Liberation Serif, serif" >447.5°C</text>
<text transform="translate(1346.86 712.30) scale(0.9843 1)" font-size="50.50" font-family="Liberation Serif, serif" >672.8°C</text>
<text transform="translate(1155.15 919.20) scale(0.9716 1)" font-size="50.50" font-family="Liberation Serif, serif" >532.9°C</text>
<text transform="translate(842.64 1021.40) scale(0.9747 1)" font-size="50.50" font-family="Liberation Serif, serif" >376.7°C</text>
<text transform="translate(1352.73 1015.70) scale(0.9808 1)" font-size="50.50" font-family="Liberation Serif, serif" >704.3°C</text>
<text transform="translate(382.21 189.30) scale(0.9436 1)" font-size="63.70" font-family="Liberation Serif, serif">1-CO<tspan font-size="42" dx="-2.0">2</tspan><tspan dx="-1.0">(g)</tspan></text>
<text transform="translate(382.83 298.30) scale(0.9537 1)" font-size="63.70" font-family="Liberation Serif, serif">2-H<tspan font-size="42" dx="-0.5">2</tspan><tspan dx="-2.5">O(g)</tspan></text>
<text transform="translate(387.09 406.70) scale(0.9506 1)" font-size="63.70" font-family="Liberation Serif, serif">3-SO<tspan font-size="42" dx="-1.5">2</tspan><tspan dx="-1.5">(g)</tspan></text>
<text transform="translate(951.64 1530.30) scale(0.9370 1)" font-size="63" font-family="Liberation Serif, serif">Temperature/<tspan font-family="'Noto Sans CJK SC', sans-serif" font-weight="300" font-size="64" dx="2">℃</tspan></text>
<text transform="translate(109.3 1090.2) rotate(-90)" font-size="63" font-family="Liberation Serif, serif">Volum flow(H<tspan font-size="42" dx="-3">2</tspan><tspan dx="0.5">O</tspan><tspan font-family="'Noto Serif CJK SC', serif" dx="4" dy="-8.5">、</tspan><tspan dx="-3" dy="8.5">SO</tspan><tspan font-size="42" dx="-1">2</tspan><tspan dx="-0.5">)</tspan></text>
<text transform="translate(2157 956.5) rotate(-90)" font-size="63" font-family="Liberation Serif, serif">Volum flow(CO<tspan font-size="42" dx="-1">2</tspan><tspan dx="-0.5">)</tspan></text>
</svg>
</body></html>
